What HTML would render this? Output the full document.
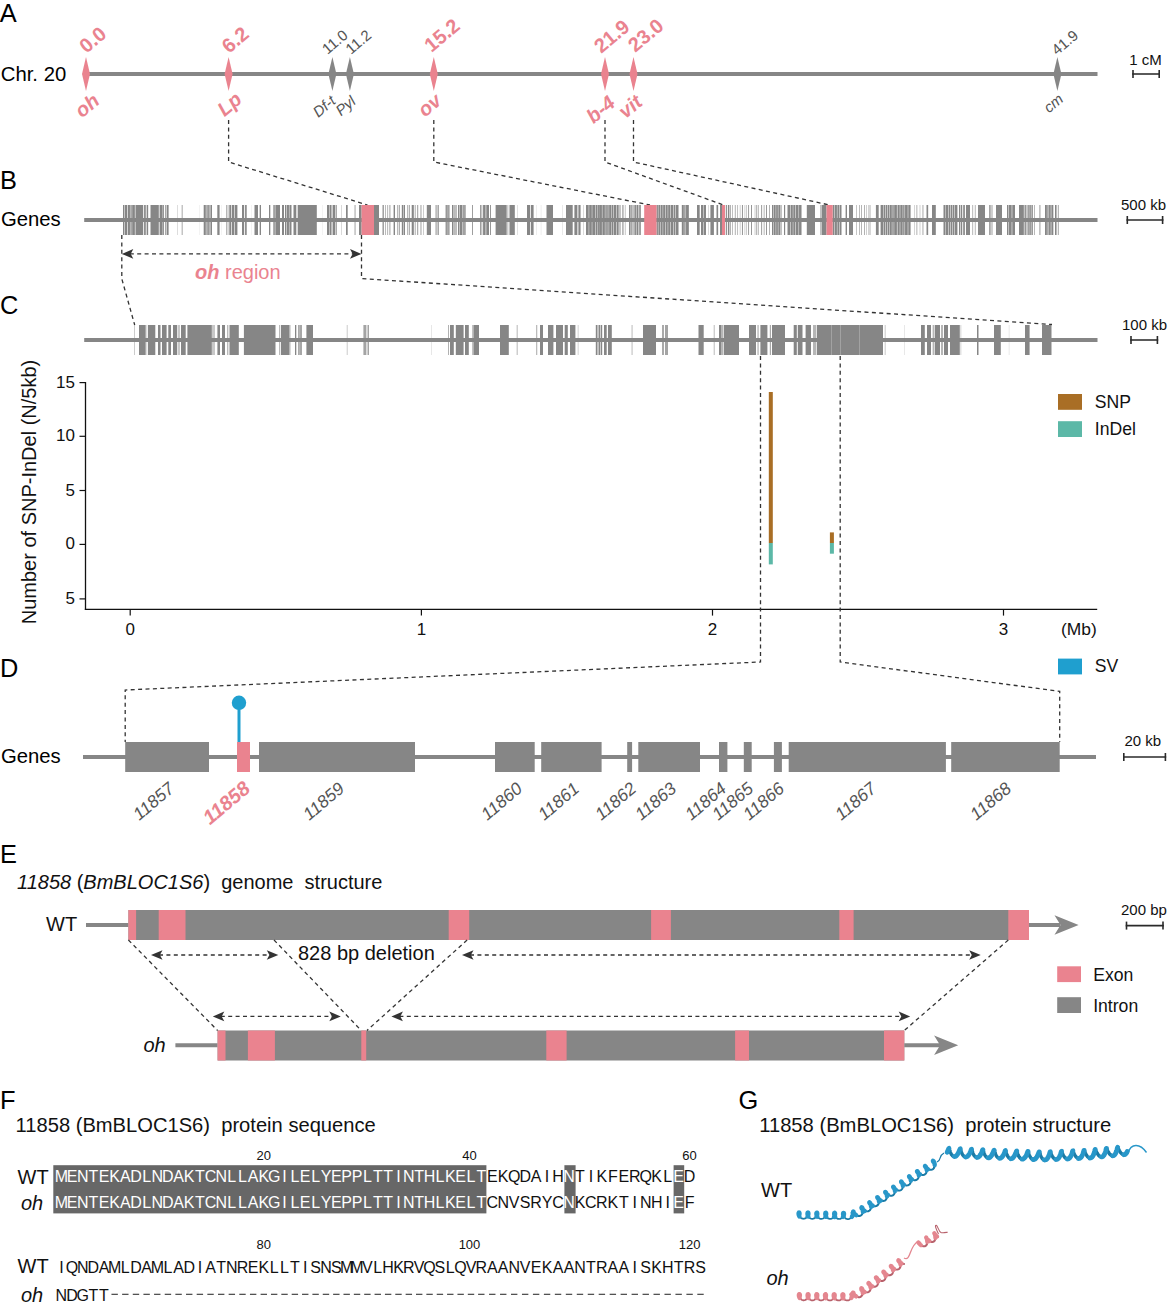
<!DOCTYPE html>
<html><head><meta charset="utf-8"><title>Figure</title>
<style>
html,body{margin:0;padding:0;background:#fff;}
svg{display:block;font-family:"Liberation Sans",sans-serif;}
text{white-space:pre;}
</style></head><body>
<svg width="1168" height="1310" viewBox="0 0 1168 1310">
<rect x="0" y="0" width="1168" height="1310" fill="#ffffff"/>
<text x="-0.20" y="21.70" font-size="25.4" fill="#000000">A</text>
<text x="0.00" y="188.80" font-size="25.4" fill="#000000">B</text>
<text x="0.00" y="314.30" font-size="25.4" fill="#000000">C</text>
<text x="0.00" y="676.80" font-size="25.4" fill="#000000">D</text>
<text x="0.00" y="862.60" font-size="25.4" fill="#000000">E</text>
<text x="0.00" y="1108.80" font-size="25.4" fill="#000000">F</text>
<text x="738.50" y="1108.60" font-size="25.4" fill="#000000">G</text>
<line x1="86.00" y1="74.00" x2="1097.50" y2="74.00" stroke="#868686" stroke-width="4"/>
<text x="0.80" y="80.50" font-size="20.3" fill="#000000">Chr. 20</text>
<polygon points="86.00,57.10 90.00,74.00 86.00,90.90 82.00,74.00" fill="#EA838F"/>
<text x="86.50" y="54.00" font-size="20" fill="#EA838F" font-weight="bold" transform="rotate(-40 86.50 54.00)">0.0</text>
<text x="100.80" y="102.80" font-size="20" fill="#EA838F" text-anchor="end" font-weight="bold" font-style="italic" transform="rotate(-40 100.80 102.80)">oh</text>
<polygon points="228.60,57.10 232.60,74.00 228.60,90.90 224.60,74.00" fill="#EA838F"/>
<text x="229.10" y="54.00" font-size="20" fill="#EA838F" font-weight="bold" transform="rotate(-40 229.10 54.00)">6.2</text>
<text x="243.10" y="101.50" font-size="20" fill="#EA838F" text-anchor="end" font-weight="bold" font-style="italic" transform="rotate(-40 243.10 101.50)">Lp</text>
<polygon points="332.40,57.10 336.40,74.00 332.40,90.90 328.40,74.00" fill="#868686"/>
<text x="327.40" y="55.00" font-size="15" fill="#555555" transform="rotate(-40 327.40 55.00)">11.0</text>
<text x="336.70" y="102.50" font-size="15" fill="#555555" text-anchor="end" font-style="italic" transform="rotate(-40 336.70 102.50)">Df-t</text>
<polygon points="349.90,57.10 353.90,74.00 349.90,90.90 345.90,74.00" fill="#868686"/>
<text x="350.90" y="55.00" font-size="15" fill="#555555" transform="rotate(-40 350.90 55.00)">11.2</text>
<text x="356.90" y="103.00" font-size="15" fill="#555555" text-anchor="end" font-style="italic" transform="rotate(-40 356.90 103.00)">Pyl</text>
<polygon points="433.80,57.10 437.80,74.00 433.80,90.90 429.80,74.00" fill="#EA838F"/>
<text x="431.50" y="53.00" font-size="20" fill="#EA838F" font-weight="bold" transform="rotate(-40 431.50 53.00)">15.2</text>
<text x="442.80" y="102.80" font-size="20" fill="#EA838F" text-anchor="end" font-weight="bold" font-style="italic" transform="rotate(-40 442.80 102.80)">ov</text>
<polygon points="605.00,57.10 609.00,74.00 605.00,90.90 601.00,74.00" fill="#EA838F"/>
<text x="601.20" y="54.00" font-size="20" fill="#EA838F" font-weight="bold" transform="rotate(-40 601.20 54.00)">21.9</text>
<text x="616.50" y="105.00" font-size="20" fill="#EA838F" text-anchor="end" font-weight="bold" font-style="italic" transform="rotate(-40 616.50 105.00)">b-4</text>
<polygon points="633.50,57.10 637.50,74.00 633.50,90.90 629.50,74.00" fill="#EA838F"/>
<text x="635.30" y="53.00" font-size="20" fill="#EA838F" font-weight="bold" transform="rotate(-40 635.30 53.00)">23.0</text>
<text x="643.50" y="104.30" font-size="20" fill="#EA838F" text-anchor="end" font-weight="bold" font-style="italic" transform="rotate(-40 643.50 104.30)">vit</text>
<polygon points="1057.40,57.10 1061.40,74.00 1057.40,90.90 1053.40,74.00" fill="#868686"/>
<text x="1057.10" y="55.80" font-size="15" fill="#555555" transform="rotate(-40 1057.10 55.80)">41.9</text>
<text x="1064.40" y="100.60" font-size="15" fill="#555555" text-anchor="end" font-style="italic" transform="rotate(-40 1064.40 100.60)">cm</text>
<line x1="1132.20" y1="74.00" x2="1160.00" y2="74.00" stroke="#2a2a2a" stroke-width="1.55"/>
<line x1="1133.00" y1="70.00" x2="1133.00" y2="78.00" stroke="#2a2a2a" stroke-width="1.6"/>
<line x1="1159.20" y1="70.00" x2="1159.20" y2="78.00" stroke="#2a2a2a" stroke-width="1.6"/>
<text x="1129.20" y="65.00" font-size="15" fill="#111">1 cM</text>
<polyline points="228.60,120.00 228.60,162.00 367.50,205.00" fill="none" stroke="#333333" stroke-width="1.3" stroke-dasharray="4 3.4"/>
<polyline points="433.80,120.00 433.80,162.00 650.00,205.00" fill="none" stroke="#333333" stroke-width="1.3" stroke-dasharray="4 3.4"/>
<polyline points="605.00,120.00 605.00,162.00 723.50,205.00" fill="none" stroke="#333333" stroke-width="1.3" stroke-dasharray="4 3.4"/>
<polyline points="633.50,120.00 633.50,162.00 829.50,205.00" fill="none" stroke="#333333" stroke-width="1.3" stroke-dasharray="4 3.4"/>
<text x="0.90" y="225.80" font-size="20.3" fill="#000000">Genes</text>
<line x1="84.20" y1="220.00" x2="1097.50" y2="220.00" stroke="#868686" stroke-width="4"/>
<rect x="123.00" y="205.00" width="1.47" height="30.00" fill="#868686"/>
<rect x="125.02" y="205.00" width="2.16" height="30.00" fill="#868686"/>
<rect x="127.83" y="205.00" width="2.11" height="30.00" fill="#868686"/>
<rect x="130.39" y="205.00" width="1.33" height="30.00" fill="#868686"/>
<rect x="132.17" y="205.00" width="2.69" height="30.00" fill="#868686"/>
<rect x="135.48" y="205.00" width="0.52" height="30.00" fill="#868686"/>
<rect x="136.00" y="205.00" width="6.00" height="30.00" fill="#868686"/>
<rect x="142.00" y="205.00" width="1.19" height="30.00" fill="#868686"/>
<rect x="144.09" y="205.00" width="1.67" height="30.00" fill="#868686"/>
<rect x="146.63" y="205.00" width="1.53" height="30.00" fill="#868686"/>
<rect x="150.50" y="205.00" width="8.30" height="30.00" fill="#868686"/>
<rect x="159.00" y="205.00" width="1.00" height="30.00" fill="#868686" fill-opacity="0.4"/>
<rect x="160.00" y="205.00" width="2.00" height="30.00" fill="#868686"/>
<rect x="162.00" y="205.00" width="0.67" height="30.00" fill="#868686"/>
<rect x="163.14" y="205.00" width="0.87" height="30.00" fill="#868686"/>
<rect x="165.10" y="205.00" width="0.72" height="30.00" fill="#868686"/>
<rect x="166.58" y="205.00" width="0.42" height="30.00" fill="#868686"/>
<rect x="167.00" y="205.00" width="1.60" height="30.00" fill="#868686"/>
<rect x="177.30" y="205.00" width="0.70" height="30.00" fill="#868686" fill-opacity="0.4"/>
<rect x="181.60" y="205.00" width="1.20" height="30.00" fill="#868686" fill-opacity="0.6"/>
<rect x="199.00" y="205.00" width="0.50" height="30.00" fill="#868686" fill-opacity="0.2"/>
<rect x="203.70" y="205.00" width="2.10" height="30.00" fill="#868686"/>
<rect x="206.40" y="205.00" width="1.31" height="30.00" fill="#868686"/>
<rect x="208.16" y="205.00" width="1.44" height="30.00" fill="#868686"/>
<rect x="210.40" y="205.00" width="1.60" height="30.00" fill="#868686"/>
<rect x="217.30" y="205.00" width="2.30" height="30.00" fill="#868686"/>
<rect x="221.50" y="205.00" width="0.50" height="30.00" fill="#868686" fill-opacity="0.2"/>
<rect x="226.40" y="205.00" width="0.88" height="30.00" fill="#868686"/>
<rect x="228.68" y="205.00" width="1.04" height="30.00" fill="#868686"/>
<rect x="230.00" y="205.00" width="1.30" height="30.00" fill="#868686"/>
<rect x="232.00" y="205.00" width="2.00" height="30.00" fill="#868686"/>
<rect x="234.60" y="205.00" width="2.80" height="30.00" fill="#868686"/>
<rect x="242.00" y="205.00" width="2.15" height="30.00" fill="#868686"/>
<rect x="245.08" y="205.00" width="1.62" height="30.00" fill="#868686"/>
<rect x="251.00" y="205.00" width="0.50" height="30.00" fill="#868686" fill-opacity="0.2"/>
<rect x="254.50" y="205.00" width="3.50" height="30.00" fill="#868686"/>
<rect x="259.50" y="205.00" width="1.20" height="30.00" fill="#868686" fill-opacity="0.7"/>
<rect x="260.00" y="205.00" width="1.00" height="30.00" fill="#868686"/>
<rect x="269.00" y="205.00" width="1.30" height="30.00" fill="#868686"/>
<rect x="273.00" y="205.00" width="0.64" height="30.00" fill="#868686"/>
<rect x="274.24" y="205.00" width="1.41" height="30.00" fill="#868686"/>
<rect x="276.00" y="205.00" width="4.00" height="30.00" fill="#868686"/>
<rect x="282.00" y="205.00" width="2.00" height="30.00" fill="#868686"/>
<rect x="285.00" y="205.00" width="1.27" height="30.00" fill="#868686"/>
<rect x="286.72" y="205.00" width="2.23" height="30.00" fill="#868686"/>
<rect x="289.40" y="205.00" width="2.10" height="30.00" fill="#868686"/>
<rect x="293.50" y="205.00" width="2.80" height="30.00" fill="#868686"/>
<rect x="297.70" y="205.00" width="19.10" height="30.00" fill="#868686"/>
<rect x="322.00" y="205.00" width="0.50" height="30.00" fill="#868686" fill-opacity="0.2"/>
<rect x="327.00" y="205.00" width="2.02" height="30.00" fill="#868686"/>
<rect x="329.47" y="205.00" width="2.05" height="30.00" fill="#868686"/>
<rect x="331.97" y="205.00" width="0.03" height="30.00" fill="#868686"/>
<rect x="332.60" y="205.00" width="2.68" height="30.00" fill="#868686"/>
<rect x="335.83" y="205.00" width="0.87" height="30.00" fill="#868686"/>
<rect x="341.20" y="205.00" width="0.80" height="30.00" fill="#868686" fill-opacity="0.4"/>
<rect x="346.00" y="205.00" width="1.70" height="30.00" fill="#868686"/>
<rect x="354.50" y="205.00" width="1.10" height="30.00" fill="#868686" fill-opacity="0.7"/>
<rect x="359.00" y="205.00" width="2.60" height="30.00" fill="#868686"/>
<rect x="374.00" y="205.00" width="5.00" height="30.00" fill="#868686"/>
<rect x="382.00" y="205.00" width="0.44" height="30.00" fill="#868686"/>
<rect x="383.16" y="205.00" width="0.77" height="30.00" fill="#868686"/>
<rect x="385.20" y="205.00" width="0.57" height="30.00" fill="#868686"/>
<rect x="387.47" y="205.00" width="0.60" height="30.00" fill="#868686"/>
<rect x="389.52" y="205.00" width="0.80" height="30.00" fill="#868686"/>
<rect x="393.60" y="205.00" width="1.40" height="30.00" fill="#868686"/>
<rect x="397.00" y="205.00" width="0.58" height="30.00" fill="#868686"/>
<rect x="398.78" y="205.00" width="0.88" height="30.00" fill="#868686"/>
<rect x="401.80" y="205.00" width="1.62" height="30.00" fill="#868686"/>
<rect x="403.87" y="205.00" width="1.13" height="30.00" fill="#868686"/>
<rect x="407.00" y="205.00" width="0.58" height="30.00" fill="#868686"/>
<rect x="408.79" y="205.00" width="0.87" height="30.00" fill="#868686"/>
<rect x="412.00" y="205.00" width="1.70" height="30.00" fill="#868686"/>
<rect x="414.80" y="205.00" width="0.69" height="30.00" fill="#868686"/>
<rect x="417.33" y="205.00" width="0.84" height="30.00" fill="#868686"/>
<rect x="420.58" y="205.00" width="0.79" height="30.00" fill="#868686"/>
<rect x="423.05" y="205.00" width="0.41" height="30.00" fill="#868686"/>
<rect x="411.70" y="205.00" width="1.70" height="30.00" fill="#868686"/>
<rect x="426.80" y="205.00" width="4.20" height="30.00" fill="#868686"/>
<rect x="435.00" y="205.00" width="0.39" height="30.00" fill="#868686"/>
<rect x="436.08" y="205.00" width="0.54" height="30.00" fill="#868686"/>
<rect x="437.42" y="205.00" width="0.43" height="30.00" fill="#868686"/>
<rect x="438.20" y="205.00" width="0.80" height="30.00" fill="#868686" fill-opacity="0.9"/>
<rect x="445.60" y="205.00" width="1.25" height="30.00" fill="#868686"/>
<rect x="447.30" y="205.00" width="1.47" height="30.00" fill="#868686"/>
<rect x="449.21" y="205.00" width="0.49" height="30.00" fill="#868686"/>
<rect x="452.00" y="205.00" width="1.52" height="30.00" fill="#868686"/>
<rect x="454.43" y="205.00" width="1.06" height="30.00" fill="#868686"/>
<rect x="455.94" y="205.00" width="0.60" height="30.00" fill="#868686"/>
<rect x="456.99" y="205.00" width="0.01" height="30.00" fill="#868686"/>
<rect x="458.00" y="205.00" width="1.49" height="30.00" fill="#868686"/>
<rect x="459.94" y="205.00" width="2.15" height="30.00" fill="#868686"/>
<rect x="462.54" y="205.00" width="1.25" height="30.00" fill="#868686"/>
<rect x="464.24" y="205.00" width="1.36" height="30.00" fill="#868686"/>
<rect x="472.00" y="205.00" width="0.80" height="30.00" fill="#868686"/>
<rect x="480.00" y="205.00" width="0.81" height="30.00" fill="#868686"/>
<rect x="481.54" y="205.00" width="0.70" height="30.00" fill="#868686"/>
<rect x="483.09" y="205.00" width="0.91" height="30.00" fill="#868686"/>
<rect x="484.00" y="205.00" width="1.60" height="30.00" fill="#868686"/>
<rect x="486.27" y="205.00" width="2.73" height="30.00" fill="#868686"/>
<rect x="490.14" y="205.00" width="0.86" height="30.00" fill="#868686"/>
<rect x="495.60" y="205.00" width="11.10" height="30.00" fill="#868686"/>
<rect x="507.60" y="205.00" width="0.55" height="30.00" fill="#868686"/>
<rect x="508.94" y="205.00" width="0.36" height="30.00" fill="#868686"/>
<rect x="509.70" y="205.00" width="5.10" height="30.00" fill="#868686"/>
<rect x="517.20" y="205.00" width="0.60" height="30.00" fill="#868686" fill-opacity="0.4"/>
<rect x="527.00" y="205.00" width="3.00" height="30.00" fill="#868686"/>
<rect x="530.80" y="205.00" width="2.80" height="30.00" fill="#868686"/>
<rect x="536.50" y="205.00" width="0.50" height="30.00" fill="#868686" fill-opacity="0.3"/>
<rect x="540.80" y="205.00" width="0.50" height="30.00" fill="#868686" fill-opacity="0.3"/>
<rect x="546.50" y="205.00" width="2.50" height="30.00" fill="#868686"/>
<rect x="549.00" y="205.00" width="4.00" height="30.00" fill="#868686"/>
<rect x="562.00" y="205.00" width="0.60" height="30.00" fill="#868686" fill-opacity="0.3"/>
<rect x="566.00" y="205.00" width="6.70" height="30.00" fill="#868686"/>
<rect x="574.40" y="205.00" width="2.98" height="30.00" fill="#868686"/>
<rect x="578.39" y="205.00" width="1.60" height="30.00" fill="#868686"/>
<rect x="580.44" y="205.00" width="0.56" height="30.00" fill="#868686"/>
<rect x="583.00" y="205.00" width="1.00" height="30.00" fill="#868686" fill-opacity="0.3"/>
<rect x="586.00" y="205.00" width="2.71" height="30.00" fill="#868686"/>
<rect x="589.16" y="205.00" width="2.64" height="30.00" fill="#868686"/>
<rect x="592.25" y="205.00" width="2.84" height="30.00" fill="#868686"/>
<rect x="595.54" y="205.00" width="2.06" height="30.00" fill="#868686"/>
<rect x="598.05" y="205.00" width="1.80" height="30.00" fill="#868686"/>
<rect x="600.00" y="205.00" width="1.91" height="30.00" fill="#868686"/>
<rect x="602.36" y="205.00" width="2.50" height="30.00" fill="#868686"/>
<rect x="605.32" y="205.00" width="1.47" height="30.00" fill="#868686"/>
<rect x="607.24" y="205.00" width="1.46" height="30.00" fill="#868686"/>
<rect x="609.15" y="205.00" width="2.38" height="30.00" fill="#868686"/>
<rect x="611.99" y="205.00" width="1.44" height="30.00" fill="#868686"/>
<rect x="613.87" y="205.00" width="2.37" height="30.00" fill="#868686"/>
<rect x="616.69" y="205.00" width="1.98" height="30.00" fill="#868686"/>
<rect x="619.00" y="205.00" width="0.47" height="30.00" fill="#868686"/>
<rect x="620.34" y="205.00" width="0.48" height="30.00" fill="#868686"/>
<rect x="622.02" y="205.00" width="0.58" height="30.00" fill="#868686"/>
<rect x="623.56" y="205.00" width="0.54" height="30.00" fill="#868686"/>
<rect x="625.33" y="205.00" width="0.37" height="30.00" fill="#868686"/>
<rect x="629.00" y="205.00" width="1.60" height="30.00" fill="#868686"/>
<rect x="631.29" y="205.00" width="1.14" height="30.00" fill="#868686"/>
<rect x="632.92" y="205.00" width="0.52" height="30.00" fill="#868686"/>
<rect x="633.90" y="205.00" width="0.72" height="30.00" fill="#868686"/>
<rect x="635.07" y="205.00" width="1.46" height="30.00" fill="#868686"/>
<rect x="636.99" y="205.00" width="1.07" height="30.00" fill="#868686"/>
<rect x="638.59" y="205.00" width="1.17" height="30.00" fill="#868686"/>
<rect x="640.21" y="205.00" width="0.79" height="30.00" fill="#868686"/>
<rect x="656.50" y="205.00" width="1.39" height="30.00" fill="#868686"/>
<rect x="658.34" y="205.00" width="1.70" height="30.00" fill="#868686"/>
<rect x="660.49" y="205.00" width="2.21" height="30.00" fill="#868686"/>
<rect x="663.15" y="205.00" width="2.00" height="30.00" fill="#868686"/>
<rect x="665.60" y="205.00" width="2.12" height="30.00" fill="#868686"/>
<rect x="668.17" y="205.00" width="2.16" height="30.00" fill="#868686"/>
<rect x="670.78" y="205.00" width="2.46" height="30.00" fill="#868686"/>
<rect x="673.69" y="205.00" width="1.67" height="30.00" fill="#868686"/>
<rect x="675.81" y="205.00" width="2.71" height="30.00" fill="#868686"/>
<rect x="681.80" y="205.00" width="2.00" height="30.00" fill="#868686"/>
<rect x="684.25" y="205.00" width="1.33" height="30.00" fill="#868686"/>
<rect x="686.03" y="205.00" width="2.81" height="30.00" fill="#868686"/>
<rect x="697.00" y="205.00" width="2.70" height="30.00" fill="#868686"/>
<rect x="701.00" y="205.00" width="2.39" height="30.00" fill="#868686"/>
<rect x="703.84" y="205.00" width="2.16" height="30.00" fill="#868686"/>
<rect x="708.00" y="205.00" width="1.00" height="30.00" fill="#868686" fill-opacity="0.3"/>
<rect x="710.40" y="205.00" width="3.50" height="30.00" fill="#868686"/>
<rect x="716.50" y="205.00" width="1.64" height="30.00" fill="#868686"/>
<rect x="720.00" y="205.00" width="2.00" height="30.00" fill="#868686"/>
<rect x="725.80" y="205.00" width="1.08" height="30.00" fill="#868686"/>
<rect x="727.89" y="205.00" width="1.50" height="30.00" fill="#868686"/>
<rect x="730.00" y="205.00" width="0.63" height="30.00" fill="#868686"/>
<rect x="732.38" y="205.00" width="0.53" height="30.00" fill="#868686"/>
<rect x="734.87" y="205.00" width="0.65" height="30.00" fill="#868686"/>
<rect x="737.49" y="205.00" width="0.53" height="30.00" fill="#868686"/>
<rect x="739.88" y="205.00" width="0.39" height="30.00" fill="#868686"/>
<rect x="741.96" y="205.00" width="0.88" height="30.00" fill="#868686"/>
<rect x="744.76" y="205.00" width="0.37" height="30.00" fill="#868686"/>
<rect x="746.57" y="205.00" width="0.42" height="30.00" fill="#868686"/>
<rect x="748.24" y="205.00" width="0.80" height="30.00" fill="#868686"/>
<rect x="751.09" y="205.00" width="0.86" height="30.00" fill="#868686"/>
<rect x="754.81" y="205.00" width="0.40" height="30.00" fill="#868686"/>
<rect x="756.02" y="205.00" width="0.58" height="30.00" fill="#868686"/>
<rect x="757.82" y="205.00" width="0.70" height="30.00" fill="#868686"/>
<rect x="761.27" y="205.00" width="0.82" height="30.00" fill="#868686"/>
<rect x="763.79" y="205.00" width="0.60" height="30.00" fill="#868686"/>
<rect x="766.04" y="205.00" width="0.86" height="30.00" fill="#868686"/>
<rect x="769.12" y="205.00" width="0.64" height="30.00" fill="#868686"/>
<rect x="772.00" y="205.00" width="1.49" height="30.00" fill="#868686"/>
<rect x="773.94" y="205.00" width="1.76" height="30.00" fill="#868686"/>
<rect x="776.15" y="205.00" width="1.72" height="30.00" fill="#868686"/>
<rect x="778.32" y="205.00" width="1.82" height="30.00" fill="#868686"/>
<rect x="780.60" y="205.00" width="0.90" height="30.00" fill="#868686"/>
<rect x="784.00" y="205.00" width="1.16" height="30.00" fill="#868686"/>
<rect x="787.50" y="205.00" width="2.88" height="30.00" fill="#868686"/>
<rect x="790.83" y="205.00" width="1.98" height="30.00" fill="#868686"/>
<rect x="793.26" y="205.00" width="1.91" height="30.00" fill="#868686"/>
<rect x="795.62" y="205.00" width="2.97" height="30.00" fill="#868686"/>
<rect x="799.04" y="205.00" width="2.47" height="30.00" fill="#868686"/>
<rect x="801.96" y="205.00" width="0.04" height="30.00" fill="#868686"/>
<rect x="806.80" y="205.00" width="8.20" height="30.00" fill="#868686"/>
<rect x="820.50" y="205.00" width="0.66" height="30.00" fill="#868686"/>
<rect x="821.61" y="205.00" width="1.39" height="30.00" fill="#868686"/>
<rect x="823.00" y="205.00" width="3.50" height="30.00" fill="#868686"/>
<rect x="832.70" y="205.00" width="1.35" height="30.00" fill="#868686"/>
<rect x="834.50" y="205.00" width="2.41" height="30.00" fill="#868686"/>
<rect x="837.36" y="205.00" width="1.73" height="30.00" fill="#868686"/>
<rect x="839.54" y="205.00" width="1.96" height="30.00" fill="#868686"/>
<rect x="845.60" y="205.00" width="1.40" height="30.00" fill="#868686"/>
<rect x="849.00" y="205.00" width="4.00" height="30.00" fill="#868686"/>
<rect x="856.00" y="205.00" width="0.48" height="30.00" fill="#868686"/>
<rect x="859.14" y="205.00" width="0.55" height="30.00" fill="#868686"/>
<rect x="861.00" y="205.00" width="0.61" height="30.00" fill="#868686"/>
<rect x="864.06" y="205.00" width="0.63" height="30.00" fill="#868686"/>
<rect x="866.21" y="205.00" width="0.40" height="30.00" fill="#868686"/>
<rect x="868.08" y="205.00" width="0.36" height="30.00" fill="#868686"/>
<rect x="869.66" y="205.00" width="0.67" height="30.00" fill="#868686"/>
<rect x="875.90" y="205.00" width="2.80" height="30.00" fill="#868686"/>
<rect x="880.60" y="205.00" width="2.38" height="30.00" fill="#868686"/>
<rect x="883.48" y="205.00" width="1.90" height="30.00" fill="#868686"/>
<rect x="885.83" y="205.00" width="1.47" height="30.00" fill="#868686"/>
<rect x="887.75" y="205.00" width="1.28" height="30.00" fill="#868686"/>
<rect x="889.48" y="205.00" width="2.33" height="30.00" fill="#868686"/>
<rect x="892.29" y="205.00" width="1.45" height="30.00" fill="#868686"/>
<rect x="894.19" y="205.00" width="2.70" height="30.00" fill="#868686"/>
<rect x="897.49" y="205.00" width="2.25" height="30.00" fill="#868686"/>
<rect x="900.26" y="205.00" width="2.45" height="30.00" fill="#868686"/>
<rect x="903.16" y="205.00" width="1.44" height="30.00" fill="#868686"/>
<rect x="905.05" y="205.00" width="2.70" height="30.00" fill="#868686"/>
<rect x="908.25" y="205.00" width="2.33" height="30.00" fill="#868686"/>
<rect x="914.50" y="205.00" width="0.35" height="30.00" fill="#868686"/>
<rect x="916.59" y="205.00" width="0.63" height="30.00" fill="#868686"/>
<rect x="919.80" y="205.00" width="0.39" height="30.00" fill="#868686"/>
<rect x="922.02" y="205.00" width="0.39" height="30.00" fill="#868686"/>
<rect x="923.68" y="205.00" width="0.32" height="30.00" fill="#868686"/>
<rect x="926.50" y="205.00" width="1.67" height="30.00" fill="#868686"/>
<rect x="932.00" y="205.00" width="3.80" height="30.00" fill="#868686"/>
<rect x="943.50" y="205.00" width="2.06" height="30.00" fill="#868686"/>
<rect x="946.01" y="205.00" width="2.31" height="30.00" fill="#868686"/>
<rect x="948.77" y="205.00" width="1.47" height="30.00" fill="#868686"/>
<rect x="950.69" y="205.00" width="1.75" height="30.00" fill="#868686"/>
<rect x="952.89" y="205.00" width="1.31" height="30.00" fill="#868686"/>
<rect x="954.65" y="205.00" width="2.45" height="30.00" fill="#868686"/>
<rect x="957.54" y="205.00" width="0.36" height="30.00" fill="#868686"/>
<rect x="959.00" y="205.00" width="1.06" height="30.00" fill="#868686"/>
<rect x="960.66" y="205.00" width="1.57" height="30.00" fill="#868686"/>
<rect x="963.21" y="205.00" width="1.67" height="30.00" fill="#868686"/>
<rect x="966.00" y="205.00" width="4.00" height="30.00" fill="#868686"/>
<rect x="972.50" y="205.00" width="0.60" height="30.00" fill="#868686"/>
<rect x="974.87" y="205.00" width="0.60" height="30.00" fill="#868686"/>
<rect x="978.00" y="205.00" width="7.00" height="30.00" fill="#868686"/>
<rect x="989.00" y="205.00" width="0.75" height="30.00" fill="#868686"/>
<rect x="990.43" y="205.00" width="0.75" height="30.00" fill="#868686"/>
<rect x="991.72" y="205.00" width="0.67" height="30.00" fill="#868686"/>
<rect x="996.00" y="205.00" width="6.00" height="30.00" fill="#868686"/>
<rect x="1007.00" y="205.00" width="1.44" height="30.00" fill="#868686"/>
<rect x="1008.89" y="205.00" width="2.80" height="30.00" fill="#868686"/>
<rect x="1012.26" y="205.00" width="2.74" height="30.00" fill="#868686"/>
<rect x="1019.00" y="205.00" width="4.80" height="30.00" fill="#868686"/>
<rect x="1023.80" y="205.00" width="0.53" height="30.00" fill="#868686"/>
<rect x="1024.78" y="205.00" width="1.09" height="30.00" fill="#868686"/>
<rect x="1026.57" y="205.00" width="0.86" height="30.00" fill="#868686"/>
<rect x="1027.88" y="205.00" width="0.91" height="30.00" fill="#868686"/>
<rect x="1029.31" y="205.00" width="1.51" height="30.00" fill="#868686"/>
<rect x="1031.42" y="205.00" width="1.40" height="30.00" fill="#868686"/>
<rect x="1034.01" y="205.00" width="0.59" height="30.00" fill="#868686"/>
<rect x="1039.50" y="205.00" width="0.85" height="30.00" fill="#868686"/>
<rect x="1041.99" y="205.00" width="0.01" height="30.00" fill="#868686"/>
<rect x="1045.00" y="205.00" width="1.85" height="30.00" fill="#868686"/>
<rect x="1047.30" y="205.00" width="1.29" height="30.00" fill="#868686"/>
<rect x="1049.04" y="205.00" width="1.71" height="30.00" fill="#868686"/>
<rect x="1051.33" y="205.00" width="1.68" height="30.00" fill="#868686"/>
<rect x="1053.46" y="205.00" width="0.34" height="30.00" fill="#868686"/>
<rect x="1055.00" y="205.00" width="1.56" height="30.00" fill="#868686"/>
<rect x="1057.86" y="205.00" width="0.74" height="30.00" fill="#868686"/>
<rect x="361.60" y="205.00" width="12.40" height="30.00" fill="#EA838F"/>
<rect x="644.20" y="205.00" width="12.30" height="30.00" fill="#EA838F"/>
<rect x="722.00" y="205.00" width="3.00" height="30.00" fill="#EA838F"/>
<rect x="826.50" y="205.00" width="6.20" height="30.00" fill="#EA838F"/>
<line x1="83.00" y1="220.00" x2="1097.50" y2="220.00" stroke="#868686" stroke-width="4" stroke-opacity="0.0"/>
<line x1="1126.50" y1="220.00" x2="1163.40" y2="220.00" stroke="#2a2a2a" stroke-width="1.55"/>
<line x1="1127.30" y1="216.00" x2="1127.30" y2="224.00" stroke="#2a2a2a" stroke-width="1.6"/>
<line x1="1162.60" y1="216.00" x2="1162.60" y2="224.00" stroke="#2a2a2a" stroke-width="1.6"/>
<text x="1121.00" y="210.30" font-size="15" fill="#111">500 kb</text>
<line x1="129.80" y1="253.90" x2="353.50" y2="253.90" stroke="#333333" stroke-width="1.3" stroke-dasharray="4 3.4"/>
<polygon points="121.80,253.90 133.30,249.10 130.70,253.90 133.30,258.70" fill="#333333"/>
<polygon points="361.50,253.90 350.00,249.10 352.60,253.90 350.00,258.70" fill="#333333"/>
<text x="195" y="278.8" font-size="20" fill="#EA838F"><tspan font-weight="bold" font-style="italic">oh</tspan> region</text>
<polyline points="121.80,235.00 121.80,278.80 134.70,325.00" fill="none" stroke="#333333" stroke-width="1.3" stroke-dasharray="4 3.4"/>
<polyline points="361.50,235.00 361.50,278.50 1052.00,324.50" fill="none" stroke="#333333" stroke-width="1.3" stroke-dasharray="4 3.4"/>
<line x1="84.20" y1="340.00" x2="1097.50" y2="340.00" stroke="#868686" stroke-width="4"/>
<rect x="134.20" y="325.00" width="0.60" height="30.00" fill="#868686" fill-opacity="0.7"/>
<rect x="139.00" y="325.00" width="6.70" height="30.00" fill="#868686"/>
<rect x="146.30" y="325.00" width="1.00" height="30.00" fill="#868686" fill-opacity="0.4"/>
<rect x="148.00" y="325.00" width="7.30" height="30.00" fill="#868686"/>
<rect x="158.00" y="325.00" width="2.50" height="30.00" fill="#868686"/>
<rect x="162.00" y="325.00" width="4.60" height="30.00" fill="#868686"/>
<rect x="168.30" y="325.00" width="2.70" height="30.00" fill="#868686"/>
<rect x="173.00" y="325.00" width="4.00" height="30.00" fill="#868686"/>
<rect x="177.50" y="325.00" width="2.50" height="30.00" fill="#868686" fill-opacity="0.45"/>
<rect x="181.00" y="325.00" width="4.70" height="30.00" fill="#868686"/>
<rect x="187.40" y="325.00" width="24.40" height="30.00" fill="#868686"/>
<rect x="211.80" y="325.00" width="3.20" height="30.00" fill="#868686" fill-opacity="0.45"/>
<rect x="217.40" y="325.00" width="2.60" height="30.00" fill="#868686"/>
<rect x="222.00" y="325.00" width="3.00" height="30.00" fill="#868686"/>
<rect x="227.20" y="325.00" width="1.10" height="30.00" fill="#868686" fill-opacity="0.7"/>
<rect x="229.50" y="325.00" width="9.30" height="30.00" fill="#868686"/>
<rect x="243.90" y="325.00" width="31.60" height="30.00" fill="#868686"/>
<rect x="279.20" y="325.00" width="1.00" height="30.00" fill="#868686" fill-opacity="0.7"/>
<rect x="281.00" y="325.00" width="8.00" height="30.00" fill="#868686"/>
<rect x="289.00" y="325.00" width="1.50" height="30.00" fill="#868686" fill-opacity="0.6"/>
<rect x="295.00" y="325.00" width="1.30" height="30.00" fill="#868686"/>
<rect x="298.30" y="325.00" width="1.30" height="30.00" fill="#868686"/>
<rect x="300.20" y="325.00" width="1.60" height="30.00" fill="#868686" fill-opacity="0.9"/>
<rect x="306.40" y="325.00" width="6.60" height="30.00" fill="#868686"/>
<rect x="346.80" y="325.00" width="0.70" height="30.00" fill="#868686" fill-opacity="0.6"/>
<rect x="363.40" y="325.00" width="3.00" height="30.00" fill="#868686" fill-opacity="0.75"/>
<rect x="367.50" y="325.00" width="1.50" height="30.00" fill="#868686" fill-opacity="0.75"/>
<rect x="431.00" y="325.00" width="0.50" height="30.00" fill="#868686" fill-opacity="0.4"/>
<rect x="448.00" y="325.00" width="0.80" height="30.00" fill="#868686" fill-opacity="0.8"/>
<rect x="450.00" y="325.00" width="3.80" height="30.00" fill="#868686"/>
<rect x="455.80" y="325.00" width="7.80" height="30.00" fill="#868686"/>
<rect x="465.00" y="325.00" width="3.80" height="30.00" fill="#868686"/>
<rect x="472.00" y="325.00" width="1.50" height="30.00" fill="#868686" fill-opacity="0.5"/>
<rect x="473.50" y="325.00" width="5.50" height="30.00" fill="#868686"/>
<rect x="500.00" y="325.00" width="8.80" height="30.00" fill="#868686"/>
<rect x="516.80" y="325.00" width="0.60" height="30.00" fill="#868686"/>
<rect x="536.30" y="325.00" width="0.90" height="30.00" fill="#868686" fill-opacity="0.8"/>
<rect x="540.00" y="325.00" width="3.00" height="30.00" fill="#868686"/>
<rect x="548.00" y="325.00" width="5.40" height="30.00" fill="#868686"/>
<rect x="556.00" y="325.00" width="7.00" height="30.00" fill="#868686"/>
<rect x="564.70" y="325.00" width="3.10" height="30.00" fill="#868686"/>
<rect x="570.00" y="325.00" width="5.40" height="30.00" fill="#868686"/>
<rect x="577.80" y="325.00" width="0.60" height="30.00" fill="#868686" fill-opacity="0.6"/>
<rect x="595.80" y="325.00" width="1.70" height="30.00" fill="#868686"/>
<rect x="598.50" y="325.00" width="1.50" height="30.00" fill="#868686"/>
<rect x="600.60" y="325.00" width="1.60" height="30.00" fill="#868686"/>
<rect x="604.00" y="325.00" width="2.70" height="30.00" fill="#868686"/>
<rect x="608.00" y="325.00" width="3.80" height="30.00" fill="#868686"/>
<rect x="631.70" y="325.00" width="0.70" height="30.00" fill="#868686" fill-opacity="0.8"/>
<rect x="643.00" y="325.00" width="13.00" height="30.00" fill="#868686"/>
<rect x="662.00" y="325.00" width="2.00" height="30.00" fill="#868686" fill-opacity="0.7"/>
<rect x="665.00" y="325.00" width="3.00" height="30.00" fill="#868686" fill-opacity="0.75"/>
<rect x="698.50" y="325.00" width="5.20" height="30.00" fill="#868686"/>
<rect x="713.80" y="325.00" width="0.70" height="30.00" fill="#868686" fill-opacity="0.8"/>
<rect x="719.00" y="325.00" width="2.00" height="30.00" fill="#868686"/>
<rect x="721.00" y="325.00" width="2.20" height="30.00" fill="#868686" fill-opacity="0.6"/>
<rect x="723.80" y="325.00" width="15.20" height="30.00" fill="#868686"/>
<rect x="749.00" y="325.00" width="7.00" height="30.00" fill="#868686"/>
<rect x="757.50" y="325.00" width="1.10" height="30.00" fill="#868686" fill-opacity="0.7"/>
<rect x="760.40" y="325.00" width="7.00" height="30.00" fill="#868686"/>
<rect x="769.80" y="325.00" width="1.20" height="30.00" fill="#868686" fill-opacity="0.7"/>
<rect x="772.00" y="325.00" width="13.00" height="30.00" fill="#868686"/>
<rect x="793.70" y="325.00" width="3.10" height="30.00" fill="#868686"/>
<rect x="797.80" y="325.00" width="4.70" height="30.00" fill="#868686"/>
<rect x="805.60" y="325.00" width="5.40" height="30.00" fill="#868686"/>
<rect x="813.00" y="325.00" width="3.40" height="30.00" fill="#868686" fill-opacity="0.6"/>
<rect x="817.00" y="325.00" width="66.00" height="30.00" fill="#868686"/>
<rect x="884.50" y="325.00" width="1.50" height="30.00" fill="#868686" fill-opacity="0.3"/>
<rect x="904.30" y="325.00" width="0.60" height="30.00" fill="#868686" fill-opacity="0.3"/>
<rect x="921.00" y="325.00" width="3.80" height="30.00" fill="#868686"/>
<rect x="927.00" y="325.00" width="4.00" height="30.00" fill="#868686"/>
<rect x="932.60" y="325.00" width="1.90" height="30.00" fill="#868686" fill-opacity="0.6"/>
<rect x="935.00" y="325.00" width="5.00" height="30.00" fill="#868686"/>
<rect x="941.00" y="325.00" width="2.00" height="30.00" fill="#868686" fill-opacity="0.6"/>
<rect x="944.00" y="325.00" width="4.00" height="30.00" fill="#868686"/>
<rect x="950.00" y="325.00" width="9.80" height="30.00" fill="#868686"/>
<rect x="960.60" y="325.00" width="0.60" height="30.00" fill="#868686" fill-opacity="0.6"/>
<rect x="977.00" y="325.00" width="1.50" height="30.00" fill="#868686"/>
<rect x="994.00" y="325.00" width="6.80" height="30.00" fill="#868686"/>
<rect x="1008.80" y="325.00" width="0.60" height="30.00" fill="#868686" fill-opacity="0.3"/>
<rect x="1025.00" y="325.00" width="4.60" height="30.00" fill="#868686"/>
<rect x="1042.00" y="325.00" width="9.50" height="30.00" fill="#868686"/>
<rect x="831.30" y="325.00" width="0.60" height="30.00" fill="#b5b5b5"/>
<rect x="840.30" y="325.00" width="0.60" height="30.00" fill="#b5b5b5"/>
<rect x="859.30" y="325.00" width="0.60" height="30.00" fill="#b5b5b5"/>
<line x1="1130.20" y1="340.00" x2="1158.20" y2="340.00" stroke="#2a2a2a" stroke-width="1.55"/>
<line x1="1131.00" y1="336.00" x2="1131.00" y2="344.00" stroke="#2a2a2a" stroke-width="1.6"/>
<line x1="1157.40" y1="336.00" x2="1157.40" y2="344.00" stroke="#2a2a2a" stroke-width="1.6"/>
<text x="1122.00" y="330.00" font-size="15" fill="#111">100 kb</text>
<line x1="85.50" y1="382.00" x2="85.50" y2="610.00" stroke="#111" stroke-width="1.3"/>
<line x1="84.85" y1="609.40" x2="1097.20" y2="609.40" stroke="#111" stroke-width="1.3"/>
<line x1="79.50" y1="382.60" x2="85.50" y2="382.60" stroke="#111" stroke-width="1.2"/>
<text x="75.00" y="387.60" font-size="17" fill="#111" text-anchor="end">15</text>
<line x1="79.50" y1="436.30" x2="85.50" y2="436.30" stroke="#111" stroke-width="1.2"/>
<text x="75.00" y="441.30" font-size="17" fill="#111" text-anchor="end">10</text>
<line x1="79.50" y1="490.50" x2="85.50" y2="490.50" stroke="#111" stroke-width="1.2"/>
<text x="75.00" y="495.50" font-size="17" fill="#111" text-anchor="end">5</text>
<line x1="79.50" y1="544.40" x2="85.50" y2="544.40" stroke="#111" stroke-width="1.2"/>
<text x="75.00" y="549.40" font-size="17" fill="#111" text-anchor="end">0</text>
<line x1="79.50" y1="598.90" x2="85.50" y2="598.90" stroke="#111" stroke-width="1.2"/>
<text x="75.00" y="603.90" font-size="17" fill="#111" text-anchor="end">5</text>
<line x1="130.20" y1="609.40" x2="130.20" y2="615.60" stroke="#111" stroke-width="1.2"/>
<text x="130.20" y="635.00" font-size="17" fill="#111" text-anchor="middle">0</text>
<line x1="421.40" y1="609.40" x2="421.40" y2="615.60" stroke="#111" stroke-width="1.2"/>
<text x="421.40" y="635.00" font-size="17" fill="#111" text-anchor="middle">1</text>
<line x1="712.50" y1="609.40" x2="712.50" y2="615.60" stroke="#111" stroke-width="1.2"/>
<text x="712.50" y="635.00" font-size="17" fill="#111" text-anchor="middle">2</text>
<line x1="1003.50" y1="609.40" x2="1003.50" y2="615.60" stroke="#111" stroke-width="1.2"/>
<text x="1003.50" y="635.00" font-size="17" fill="#111" text-anchor="middle">3</text>
<text x="1061.00" y="635.00" font-size="17.4" fill="#111">(Mb)</text>
<text x="36.00" y="492.00" font-size="20" fill="#111" text-anchor="middle" transform="rotate(-90 36.00 492.00)">Number of SNP-InDel (N/5kb)</text>
<rect x="768.80" y="392.00" width="4.00" height="151.00" fill="#A96E25"/>
<rect x="768.80" y="543.00" width="4.00" height="21.40" fill="#5CB8A7"/>
<rect x="829.90" y="532.40" width="4.00" height="10.60" fill="#A96E25"/>
<rect x="829.90" y="543.00" width="4.00" height="10.70" fill="#5CB8A7"/>
<rect x="1058.00" y="394.00" width="24.00" height="15.80" fill="#A96E25"/>
<text x="1094.80" y="407.70" font-size="17.6" fill="#111">SNP</text>
<rect x="1058.00" y="421.20" width="24.00" height="15.80" fill="#5CB8A7"/>
<text x="1094.80" y="434.70" font-size="17.6" fill="#111">InDel</text>
<rect x="1058.00" y="658.60" width="24.00" height="15.80" fill="#1F9FCF"/>
<text x="1094.80" y="672.10" font-size="17.6" fill="#111">SV</text>
<polyline points="760.50,356.00 760.50,662.00 125.20,690.00 125.20,742.00" fill="none" stroke="#333333" stroke-width="1.3" stroke-dasharray="4 3.4"/>
<polyline points="840.20,356.00 840.20,662.00 1059.70,691.40 1059.70,742.00" fill="none" stroke="#333333" stroke-width="1.3" stroke-dasharray="4 3.4"/>
<text x="0.90" y="762.80" font-size="20.3" fill="#000000">Genes</text>
<line x1="83.00" y1="757.00" x2="1096.00" y2="757.00" stroke="#868686" stroke-width="4"/>
<rect x="125.20" y="742.00" width="83.80" height="30.00" fill="#868686"/>
<rect x="259.00" y="742.00" width="156.00" height="30.00" fill="#868686"/>
<rect x="495.00" y="742.00" width="39.70" height="30.00" fill="#868686"/>
<rect x="541.20" y="742.00" width="60.40" height="30.00" fill="#868686"/>
<rect x="627.20" y="742.00" width="4.90" height="30.00" fill="#868686"/>
<rect x="638.30" y="742.00" width="61.70" height="30.00" fill="#868686"/>
<rect x="719.00" y="742.00" width="8.40" height="30.00" fill="#868686"/>
<rect x="743.80" y="742.00" width="7.90" height="30.00" fill="#868686"/>
<rect x="773.90" y="742.00" width="8.00" height="30.00" fill="#868686"/>
<rect x="788.70" y="742.00" width="157.20" height="30.00" fill="#868686"/>
<rect x="951.20" y="742.00" width="108.50" height="30.00" fill="#868686"/>
<rect x="237.00" y="742.00" width="13.00" height="30.00" fill="#EA838F"/>
<line x1="239.00" y1="703.00" x2="239.00" y2="742.00" stroke="#1F9FCF" stroke-width="3"/>
<circle cx="239" cy="702.8" r="7.2" fill="#1F9FCF"/>
<text x="175.50" y="790.60" font-size="17.5" fill="#555555" text-anchor="end" font-style="italic" transform="rotate(-40 175.50 790.60)">11857</text>
<text x="345.50" y="790.60" font-size="17.5" fill="#555555" text-anchor="end" font-style="italic" transform="rotate(-40 345.50 790.60)">11859</text>
<text x="523.50" y="790.60" font-size="17.5" fill="#555555" text-anchor="end" font-style="italic" transform="rotate(-40 523.50 790.60)">11860</text>
<text x="580.50" y="790.60" font-size="17.5" fill="#555555" text-anchor="end" font-style="italic" transform="rotate(-40 580.50 790.60)">11861</text>
<text x="637.50" y="790.60" font-size="17.5" fill="#555555" text-anchor="end" font-style="italic" transform="rotate(-40 637.50 790.60)">11862</text>
<text x="677.50" y="790.60" font-size="17.5" fill="#555555" text-anchor="end" font-style="italic" transform="rotate(-40 677.50 790.60)">11863</text>
<text x="727.50" y="790.60" font-size="17.5" fill="#555555" text-anchor="end" font-style="italic" transform="rotate(-40 727.50 790.60)">11864</text>
<text x="754.50" y="790.60" font-size="17.5" fill="#555555" text-anchor="end" font-style="italic" transform="rotate(-40 754.50 790.60)">11865</text>
<text x="785.50" y="790.60" font-size="17.5" fill="#555555" text-anchor="end" font-style="italic" transform="rotate(-40 785.50 790.60)">11866</text>
<text x="877.50" y="790.60" font-size="17.5" fill="#555555" text-anchor="end" font-style="italic" transform="rotate(-40 877.50 790.60)">11867</text>
<text x="1012.50" y="790.60" font-size="17.5" fill="#555555" text-anchor="end" font-style="italic" transform="rotate(-40 1012.50 790.60)">11868</text>
<text x="251.50" y="790.60" font-size="20" fill="#EA838F" text-anchor="end" font-weight="bold" font-style="italic" transform="rotate(-40 251.50 790.60)">11858</text>
<line x1="1123.00" y1="757.00" x2="1166.20" y2="757.00" stroke="#2a2a2a" stroke-width="1.55"/>
<line x1="1123.80" y1="753.00" x2="1123.80" y2="761.00" stroke="#2a2a2a" stroke-width="1.6"/>
<line x1="1165.40" y1="753.00" x2="1165.40" y2="761.00" stroke="#2a2a2a" stroke-width="1.6"/>
<text x="1124.50" y="746.00" font-size="15" fill="#111">20 kb</text>
<text x="17" y="888.8" font-size="20" fill="#111"><tspan font-style="italic">11858</tspan> (<tspan font-style="italic">BmBLOC1S6</tspan>)  genome  structure</text>
<text x="46.00" y="931.40" font-size="20" fill="#111">WT</text>
<text x="143.50" y="1051.50" font-size="20" fill="#111" font-style="italic">oh</text>
<line x1="86.00" y1="925.00" x2="128.40" y2="925.00" stroke="#868686" stroke-width="4"/>
<rect x="128.40" y="910.00" width="900.60" height="30.00" fill="#868686"/>
<rect x="128.40" y="910.00" width="7.70" height="30.00" fill="#EA838F"/>
<rect x="158.70" y="910.00" width="26.80" height="30.00" fill="#EA838F"/>
<rect x="448.70" y="910.00" width="20.50" height="30.00" fill="#EA838F"/>
<rect x="651.10" y="910.00" width="19.80" height="30.00" fill="#EA838F"/>
<rect x="839.30" y="910.00" width="14.30" height="30.00" fill="#EA838F"/>
<rect x="1008.30" y="910.00" width="20.70" height="30.00" fill="#EA838F"/>
<line x1="1029.00" y1="925.00" x2="1060.00" y2="925.00" stroke="#868686" stroke-width="4"/>
<polygon points="1078.6,925 1054.5,915.3 1060.5,925 1054.5,934.7" fill="#868686"/>
<line x1="175.40" y1="1045.30" x2="217.60" y2="1045.30" stroke="#868686" stroke-width="4"/>
<rect x="217.60" y="1030.50" width="686.70" height="30.00" fill="#868686"/>
<rect x="217.60" y="1030.50" width="7.90" height="30.00" fill="#EA838F"/>
<rect x="247.90" y="1030.50" width="27.00" height="30.00" fill="#EA838F"/>
<rect x="361.30" y="1030.50" width="4.90" height="30.00" fill="#EA838F"/>
<rect x="546.30" y="1030.50" width="20.30" height="30.00" fill="#EA838F"/>
<rect x="735.10" y="1030.50" width="13.90" height="30.00" fill="#EA838F"/>
<rect x="884.00" y="1030.50" width="20.30" height="30.00" fill="#EA838F"/>
<line x1="904.30" y1="1045.30" x2="940.00" y2="1045.30" stroke="#868686" stroke-width="4"/>
<polygon points="958.2,1045.3 934.1,1035.6 940.1,1045.3 934.1,1055" fill="#868686"/>
<polyline points="128.40,940.00 217.60,1030.50" fill="none" stroke="#333333" stroke-width="1.3" stroke-dasharray="4 3.4"/>
<polyline points="274.00,940.00 361.30,1030.50" fill="none" stroke="#333333" stroke-width="1.3" stroke-dasharray="4 3.4"/>
<polyline points="467.10,940.00 367.00,1030.50" fill="none" stroke="#333333" stroke-width="1.3" stroke-dasharray="4 3.4"/>
<polyline points="1008.30,940.00 904.30,1030.50" fill="none" stroke="#333333" stroke-width="1.3" stroke-dasharray="4 3.4"/>
<line x1="159.00" y1="955.00" x2="270.30" y2="955.00" stroke="#333333" stroke-width="1.3" stroke-dasharray="4 3.4"/>
<polygon points="151.00,955.00 162.50,950.20 159.90,955.00 162.50,959.80" fill="#333333"/>
<polygon points="278.30,955.00 266.80,950.20 269.40,955.00 266.80,959.80" fill="#333333"/>
<line x1="470.00" y1="955.00" x2="972.70" y2="955.00" stroke="#333333" stroke-width="1.3" stroke-dasharray="4 3.4"/>
<polygon points="462.00,955.00 473.50,950.20 470.90,955.00 473.50,959.80" fill="#333333"/>
<polygon points="980.70,955.00 969.20,950.20 971.80,955.00 969.20,959.80" fill="#333333"/>
<line x1="220.80" y1="1016.40" x2="332.80" y2="1016.40" stroke="#333333" stroke-width="1.3" stroke-dasharray="4 3.4"/>
<polygon points="212.80,1016.40 224.30,1011.60 221.70,1016.40 224.30,1021.20" fill="#333333"/>
<polygon points="340.80,1016.40 329.30,1011.60 331.90,1016.40 329.30,1021.20" fill="#333333"/>
<line x1="399.40" y1="1016.40" x2="902.20" y2="1016.40" stroke="#333333" stroke-width="1.3" stroke-dasharray="4 3.4"/>
<polygon points="391.40,1016.40 402.90,1011.60 400.30,1016.40 402.90,1021.20" fill="#333333"/>
<polygon points="910.20,1016.40 898.70,1011.60 901.30,1016.40 898.70,1021.20" fill="#333333"/>
<text x="298.00" y="960.00" font-size="20" fill="#111">828 bp deletion</text>
<line x1="1125.70" y1="925.60" x2="1163.80" y2="925.60" stroke="#2a2a2a" stroke-width="1.55"/>
<line x1="1126.50" y1="921.60" x2="1126.50" y2="929.60" stroke="#2a2a2a" stroke-width="1.6"/>
<line x1="1163.00" y1="921.60" x2="1163.00" y2="929.60" stroke="#2a2a2a" stroke-width="1.6"/>
<text x="1121.00" y="915.20" font-size="15" fill="#111">200 bp</text>
<rect x="1057.20" y="966.30" width="23.80" height="15.80" fill="#EA838F"/>
<text x="1093.20" y="980.80" font-size="17.6" fill="#111">Exon</text>
<rect x="1057.20" y="997.20" width="23.80" height="15.80" fill="#868686"/>
<text x="1093.20" y="1011.80" font-size="17.6" fill="#111">Intron</text>
<text x="15.60" y="1132.20" font-size="20.15" fill="#111">11858 (BmBLOC1S6)  protein sequence</text>
<rect x="53.30" y="1165.20" width="433.10" height="48.20" fill="#676767"/>
<rect x="564.40" y="1165.20" width="11.20" height="48.20" fill="#676767"/>
<rect x="673.60" y="1165.20" width="10.60" height="48.20" fill="#676767"/>
<g font-size="16" text-anchor="middle">
<text x="61.4" y="1182" fill="#fff">M</text>
<text x="72.1" y="1182" fill="#fff">E</text>
<text x="82.7" y="1182" fill="#fff">N</text>
<text x="93.4" y="1182" fill="#fff">T</text>
<text x="104.0" y="1182" fill="#fff">E</text>
<text x="114.7" y="1182" fill="#fff">K</text>
<text x="125.3" y="1182" fill="#fff">A</text>
<text x="136.0" y="1182" fill="#fff">D</text>
<text x="146.6" y="1182" fill="#fff">L</text>
<text x="157.3" y="1182" fill="#fff">N</text>
<text x="167.9" y="1182" fill="#fff">D</text>
<text x="178.6" y="1182" fill="#fff">A</text>
<text x="189.2" y="1182" fill="#fff">K</text>
<text x="199.9" y="1182" fill="#fff">T</text>
<text x="210.5" y="1182" fill="#fff">C</text>
<text x="221.2" y="1182" fill="#fff">N</text>
<text x="231.8" y="1182" fill="#fff">L</text>
<text x="242.5" y="1182" fill="#fff">L</text>
<text x="253.1" y="1182" fill="#fff">A</text>
<text x="263.8" y="1182" fill="#fff">K</text>
<text x="274.2" y="1182" fill="#fff">G</text>
<text x="284.5" y="1182" fill="#fff">I</text>
<text x="294.9" y="1182" fill="#fff">L</text>
<text x="305.2" y="1182" fill="#fff">E</text>
<text x="315.6" y="1182" fill="#fff">L</text>
<text x="326.0" y="1182" fill="#fff">Y</text>
<text x="336.3" y="1182" fill="#fff">E</text>
<text x="346.7" y="1182" fill="#fff">P</text>
<text x="357.0" y="1182" fill="#fff">P</text>
<text x="367.4" y="1182" fill="#fff">L</text>
<text x="377.8" y="1182" fill="#fff">T</text>
<text x="388.1" y="1182" fill="#fff">T</text>
<text x="398.5" y="1182" fill="#fff">I</text>
<text x="408.8" y="1182" fill="#fff">N</text>
<text x="419.2" y="1182" fill="#fff">T</text>
<text x="429.6" y="1182" fill="#fff">H</text>
<text x="439.9" y="1182" fill="#fff">L</text>
<text x="450.3" y="1182" fill="#fff">K</text>
<text x="460.6" y="1182" fill="#fff">E</text>
<text x="471.0" y="1182" fill="#fff">L</text>
<text x="481.3" y="1182" fill="#fff">T</text>
<text x="492.3" y="1182" fill="#111">E</text>
<text x="503.2" y="1182" fill="#111">K</text>
<text x="514.2" y="1182" fill="#111">Q</text>
<text x="525.2" y="1182" fill="#111">D</text>
<text x="536.1" y="1182" fill="#111">A</text>
<text x="547.1" y="1182" fill="#111">I</text>
<text x="558.0" y="1182" fill="#111">H</text>
<text x="569.0" y="1182" fill="#fff">N</text>
<text x="580.0" y="1182" fill="#111">T</text>
<text x="590.9" y="1182" fill="#111">I</text>
<text x="601.9" y="1182" fill="#111">K</text>
<text x="612.9" y="1182" fill="#111">F</text>
<text x="623.8" y="1182" fill="#111">E</text>
<text x="634.8" y="1182" fill="#111">R</text>
<text x="645.7" y="1182" fill="#111">Q</text>
<text x="656.7" y="1182" fill="#111">K</text>
<text x="667.7" y="1182" fill="#111">L</text>
<text x="678.6" y="1182" fill="#fff">E</text>
<text x="689.6" y="1182" fill="#111">D</text>
<text x="61.4" y="1208" fill="#fff">M</text>
<text x="72.1" y="1208" fill="#fff">E</text>
<text x="82.7" y="1208" fill="#fff">N</text>
<text x="93.4" y="1208" fill="#fff">T</text>
<text x="104.0" y="1208" fill="#fff">E</text>
<text x="114.7" y="1208" fill="#fff">K</text>
<text x="125.3" y="1208" fill="#fff">A</text>
<text x="136.0" y="1208" fill="#fff">D</text>
<text x="146.6" y="1208" fill="#fff">L</text>
<text x="157.3" y="1208" fill="#fff">N</text>
<text x="167.9" y="1208" fill="#fff">D</text>
<text x="178.6" y="1208" fill="#fff">A</text>
<text x="189.2" y="1208" fill="#fff">K</text>
<text x="199.9" y="1208" fill="#fff">T</text>
<text x="210.5" y="1208" fill="#fff">C</text>
<text x="221.2" y="1208" fill="#fff">N</text>
<text x="231.8" y="1208" fill="#fff">L</text>
<text x="242.5" y="1208" fill="#fff">L</text>
<text x="253.1" y="1208" fill="#fff">A</text>
<text x="263.8" y="1208" fill="#fff">K</text>
<text x="274.2" y="1208" fill="#fff">G</text>
<text x="284.5" y="1208" fill="#fff">I</text>
<text x="294.9" y="1208" fill="#fff">L</text>
<text x="305.2" y="1208" fill="#fff">E</text>
<text x="315.6" y="1208" fill="#fff">L</text>
<text x="326.0" y="1208" fill="#fff">Y</text>
<text x="336.3" y="1208" fill="#fff">E</text>
<text x="346.7" y="1208" fill="#fff">P</text>
<text x="357.0" y="1208" fill="#fff">P</text>
<text x="367.4" y="1208" fill="#fff">L</text>
<text x="377.8" y="1208" fill="#fff">T</text>
<text x="388.1" y="1208" fill="#fff">T</text>
<text x="398.5" y="1208" fill="#fff">I</text>
<text x="408.8" y="1208" fill="#fff">N</text>
<text x="419.2" y="1208" fill="#fff">T</text>
<text x="429.6" y="1208" fill="#fff">H</text>
<text x="439.9" y="1208" fill="#fff">L</text>
<text x="450.3" y="1208" fill="#fff">K</text>
<text x="460.6" y="1208" fill="#fff">E</text>
<text x="471.0" y="1208" fill="#fff">L</text>
<text x="481.3" y="1208" fill="#fff">T</text>
<text x="492.3" y="1208" fill="#111">C</text>
<text x="503.2" y="1208" fill="#111">N</text>
<text x="514.2" y="1208" fill="#111">V</text>
<text x="525.2" y="1208" fill="#111">S</text>
<text x="536.1" y="1208" fill="#111">R</text>
<text x="547.1" y="1208" fill="#111">Y</text>
<text x="558.0" y="1208" fill="#111">C</text>
<text x="569.0" y="1208" fill="#fff">N</text>
<text x="580.0" y="1208" fill="#111">K</text>
<text x="590.9" y="1208" fill="#111">C</text>
<text x="601.9" y="1208" fill="#111">R</text>
<text x="612.9" y="1208" fill="#111">K</text>
<text x="623.8" y="1208" fill="#111">T</text>
<text x="634.8" y="1208" fill="#111">I</text>
<text x="645.7" y="1208" fill="#111">N</text>
<text x="656.7" y="1208" fill="#111">H</text>
<text x="667.7" y="1208" fill="#111">I</text>
<text x="678.6" y="1208" fill="#fff">E</text>
<text x="689.6" y="1208" fill="#111">F</text>
<text x="61.4" y="1273" fill="#111">I</text>
<text x="72.1" y="1273" fill="#111">Q</text>
<text x="82.7" y="1273" fill="#111">N</text>
<text x="93.4" y="1273" fill="#111">D</text>
<text x="104.0" y="1273" fill="#111">A</text>
<text x="114.7" y="1273" fill="#111">M</text>
<text x="125.3" y="1273" fill="#111">L</text>
<text x="136.0" y="1273" fill="#111">D</text>
<text x="146.6" y="1273" fill="#111">A</text>
<text x="157.3" y="1273" fill="#111">M</text>
<text x="167.9" y="1273" fill="#111">L</text>
<text x="178.6" y="1273" fill="#111">A</text>
<text x="189.2" y="1273" fill="#111">D</text>
<text x="199.9" y="1273" fill="#111">I</text>
<text x="210.5" y="1273" fill="#111">A</text>
<text x="221.2" y="1273" fill="#111">T</text>
<text x="231.8" y="1273" fill="#111">N</text>
<text x="242.5" y="1273" fill="#111">R</text>
<text x="253.1" y="1273" fill="#111">E</text>
<text x="263.8" y="1273" fill="#111">K</text>
<text x="274.2" y="1273" fill="#111">L</text>
<text x="284.5" y="1273" fill="#111">L</text>
<text x="294.9" y="1273" fill="#111">T</text>
<text x="305.2" y="1273" fill="#111">I</text>
<text x="315.6" y="1273" fill="#111">S</text>
<text x="326.0" y="1273" fill="#111">N</text>
<text x="336.3" y="1273" fill="#111">S</text>
<text x="346.7" y="1273" fill="#111">M</text>
<text x="357.0" y="1273" fill="#111">M</text>
<text x="367.4" y="1273" fill="#111">V</text>
<text x="377.8" y="1273" fill="#111">L</text>
<text x="388.1" y="1273" fill="#111">H</text>
<text x="398.5" y="1273" fill="#111">K</text>
<text x="408.8" y="1273" fill="#111">R</text>
<text x="419.2" y="1273" fill="#111">V</text>
<text x="429.6" y="1273" fill="#111">Q</text>
<text x="439.9" y="1273" fill="#111">S</text>
<text x="450.3" y="1273" fill="#111">L</text>
<text x="460.6" y="1273" fill="#111">Q</text>
<text x="471.0" y="1273" fill="#111">V</text>
<text x="481.3" y="1273" fill="#111">R</text>
<text x="492.3" y="1273" fill="#111">A</text>
<text x="503.2" y="1273" fill="#111">A</text>
<text x="514.2" y="1273" fill="#111">N</text>
<text x="525.2" y="1273" fill="#111">V</text>
<text x="536.1" y="1273" fill="#111">E</text>
<text x="547.1" y="1273" fill="#111">K</text>
<text x="558.0" y="1273" fill="#111">A</text>
<text x="569.0" y="1273" fill="#111">A</text>
<text x="580.0" y="1273" fill="#111">N</text>
<text x="590.9" y="1273" fill="#111">T</text>
<text x="601.9" y="1273" fill="#111">R</text>
<text x="612.9" y="1273" fill="#111">A</text>
<text x="623.8" y="1273" fill="#111">A</text>
<text x="634.8" y="1273" fill="#111">I</text>
<text x="645.7" y="1273" fill="#111">S</text>
<text x="656.7" y="1273" fill="#111">K</text>
<text x="667.7" y="1273" fill="#111">H</text>
<text x="678.6" y="1273" fill="#111">T</text>
<text x="689.6" y="1273" fill="#111">R</text>
<text x="700.5" y="1273" fill="#111">S</text>
<text x="61.4" y="1300.5" fill="#111">N</text>
<text x="72.1" y="1300.5" fill="#111">D</text>
<text x="82.7" y="1300.5" fill="#111">G</text>
<text x="93.4" y="1300.5" fill="#111">T</text>
<text x="104.0" y="1300.5" fill="#111">T</text>
</g>
<line x1="111.46" y1="1294.30" x2="117.86" y2="1294.30" stroke="#333" stroke-width="1.1"/>
<line x1="122.12" y1="1294.30" x2="128.52" y2="1294.30" stroke="#333" stroke-width="1.1"/>
<line x1="132.77" y1="1294.30" x2="139.17" y2="1294.30" stroke="#333" stroke-width="1.1"/>
<line x1="143.42" y1="1294.30" x2="149.82" y2="1294.30" stroke="#333" stroke-width="1.1"/>
<line x1="154.07" y1="1294.30" x2="160.47" y2="1294.30" stroke="#333" stroke-width="1.1"/>
<line x1="164.73" y1="1294.30" x2="171.13" y2="1294.30" stroke="#333" stroke-width="1.1"/>
<line x1="175.38" y1="1294.30" x2="181.78" y2="1294.30" stroke="#333" stroke-width="1.1"/>
<line x1="186.03" y1="1294.30" x2="192.43" y2="1294.30" stroke="#333" stroke-width="1.1"/>
<line x1="196.68" y1="1294.30" x2="203.08" y2="1294.30" stroke="#333" stroke-width="1.1"/>
<line x1="207.34" y1="1294.30" x2="213.74" y2="1294.30" stroke="#333" stroke-width="1.1"/>
<line x1="217.99" y1="1294.30" x2="224.39" y2="1294.30" stroke="#333" stroke-width="1.1"/>
<line x1="228.64" y1="1294.30" x2="235.04" y2="1294.30" stroke="#333" stroke-width="1.1"/>
<line x1="239.29" y1="1294.30" x2="245.69" y2="1294.30" stroke="#333" stroke-width="1.1"/>
<line x1="249.95" y1="1294.30" x2="256.35" y2="1294.30" stroke="#333" stroke-width="1.1"/>
<line x1="260.60" y1="1294.30" x2="267.00" y2="1294.30" stroke="#333" stroke-width="1.1"/>
<line x1="270.96" y1="1294.30" x2="277.36" y2="1294.30" stroke="#333" stroke-width="1.1"/>
<line x1="281.32" y1="1294.30" x2="287.72" y2="1294.30" stroke="#333" stroke-width="1.1"/>
<line x1="291.68" y1="1294.30" x2="298.08" y2="1294.30" stroke="#333" stroke-width="1.1"/>
<line x1="302.04" y1="1294.30" x2="308.44" y2="1294.30" stroke="#333" stroke-width="1.1"/>
<line x1="312.40" y1="1294.30" x2="318.80" y2="1294.30" stroke="#333" stroke-width="1.1"/>
<line x1="322.76" y1="1294.30" x2="329.16" y2="1294.30" stroke="#333" stroke-width="1.1"/>
<line x1="333.12" y1="1294.30" x2="339.52" y2="1294.30" stroke="#333" stroke-width="1.1"/>
<line x1="343.48" y1="1294.30" x2="349.88" y2="1294.30" stroke="#333" stroke-width="1.1"/>
<line x1="353.84" y1="1294.30" x2="360.24" y2="1294.30" stroke="#333" stroke-width="1.1"/>
<line x1="364.20" y1="1294.30" x2="370.60" y2="1294.30" stroke="#333" stroke-width="1.1"/>
<line x1="374.56" y1="1294.30" x2="380.96" y2="1294.30" stroke="#333" stroke-width="1.1"/>
<line x1="384.92" y1="1294.30" x2="391.32" y2="1294.30" stroke="#333" stroke-width="1.1"/>
<line x1="395.28" y1="1294.30" x2="401.68" y2="1294.30" stroke="#333" stroke-width="1.1"/>
<line x1="405.64" y1="1294.30" x2="412.04" y2="1294.30" stroke="#333" stroke-width="1.1"/>
<line x1="416.00" y1="1294.30" x2="422.40" y2="1294.30" stroke="#333" stroke-width="1.1"/>
<line x1="426.36" y1="1294.30" x2="432.76" y2="1294.30" stroke="#333" stroke-width="1.1"/>
<line x1="436.72" y1="1294.30" x2="443.12" y2="1294.30" stroke="#333" stroke-width="1.1"/>
<line x1="447.08" y1="1294.30" x2="453.48" y2="1294.30" stroke="#333" stroke-width="1.1"/>
<line x1="457.44" y1="1294.30" x2="463.84" y2="1294.30" stroke="#333" stroke-width="1.1"/>
<line x1="467.80" y1="1294.30" x2="474.20" y2="1294.30" stroke="#333" stroke-width="1.1"/>
<line x1="478.10" y1="1294.30" x2="484.50" y2="1294.30" stroke="#333" stroke-width="1.1"/>
<line x1="489.06" y1="1294.30" x2="495.46" y2="1294.30" stroke="#333" stroke-width="1.1"/>
<line x1="500.03" y1="1294.30" x2="506.43" y2="1294.30" stroke="#333" stroke-width="1.1"/>
<line x1="510.99" y1="1294.30" x2="517.39" y2="1294.30" stroke="#333" stroke-width="1.1"/>
<line x1="521.95" y1="1294.30" x2="528.35" y2="1294.30" stroke="#333" stroke-width="1.1"/>
<line x1="532.92" y1="1294.30" x2="539.32" y2="1294.30" stroke="#333" stroke-width="1.1"/>
<line x1="543.88" y1="1294.30" x2="550.28" y2="1294.30" stroke="#333" stroke-width="1.1"/>
<line x1="554.84" y1="1294.30" x2="561.24" y2="1294.30" stroke="#333" stroke-width="1.1"/>
<line x1="565.81" y1="1294.30" x2="572.21" y2="1294.30" stroke="#333" stroke-width="1.1"/>
<line x1="576.77" y1="1294.30" x2="583.17" y2="1294.30" stroke="#333" stroke-width="1.1"/>
<line x1="587.73" y1="1294.30" x2="594.13" y2="1294.30" stroke="#333" stroke-width="1.1"/>
<line x1="598.69" y1="1294.30" x2="605.09" y2="1294.30" stroke="#333" stroke-width="1.1"/>
<line x1="609.66" y1="1294.30" x2="616.06" y2="1294.30" stroke="#333" stroke-width="1.1"/>
<line x1="620.62" y1="1294.30" x2="627.02" y2="1294.30" stroke="#333" stroke-width="1.1"/>
<line x1="631.58" y1="1294.30" x2="637.98" y2="1294.30" stroke="#333" stroke-width="1.1"/>
<line x1="642.55" y1="1294.30" x2="648.95" y2="1294.30" stroke="#333" stroke-width="1.1"/>
<line x1="653.51" y1="1294.30" x2="659.91" y2="1294.30" stroke="#333" stroke-width="1.1"/>
<line x1="664.47" y1="1294.30" x2="670.87" y2="1294.30" stroke="#333" stroke-width="1.1"/>
<line x1="675.44" y1="1294.30" x2="681.84" y2="1294.30" stroke="#333" stroke-width="1.1"/>
<line x1="686.40" y1="1294.30" x2="692.80" y2="1294.30" stroke="#333" stroke-width="1.1"/>
<line x1="697.30" y1="1294.30" x2="703.70" y2="1294.30" stroke="#333" stroke-width="1.1"/>
<text x="263.80" y="1159.70" font-size="13" fill="#111" text-anchor="middle">20</text>
<text x="469.50" y="1159.70" font-size="13" fill="#111" text-anchor="middle">40</text>
<text x="689.60" y="1159.70" font-size="13" fill="#111" text-anchor="middle">60</text>
<text x="263.80" y="1249.00" font-size="13" fill="#111" text-anchor="middle">80</text>
<text x="469.50" y="1249.00" font-size="13" fill="#111" text-anchor="middle">100</text>
<text x="689.60" y="1249.00" font-size="13" fill="#111" text-anchor="middle">120</text>
<text x="17.50" y="1183.50" font-size="20" fill="#111">WT</text>
<text x="21.00" y="1209.50" font-size="20" fill="#111" font-style="italic">oh</text>
<text x="17.50" y="1273.00" font-size="20" fill="#111">WT</text>
<text x="21.00" y="1301.50" font-size="20" fill="#111" font-style="italic">oh</text>
<text x="759.20" y="1132.20" font-size="20.2" fill="#111">11858 (BmBLOC1S6)  protein structure</text>
<text x="761.00" y="1197.30" font-size="20" fill="#111">WT</text>
<text x="766.50" y="1284.50" font-size="20" fill="#111" font-style="italic">oh</text>
<polyline points="799.00,1215.62 799.27,1214.93 799.43,1214.27 799.49,1213.68 799.46,1213.19 799.36,1212.82 799.21,1212.59 799.04,1212.52 798.87,1212.60 798.72,1212.83 798.62,1213.21 798.59,1213.70 798.65,1214.30 798.80,1214.96 799.07,1215.65 799.44,1216.35 799.93,1217.01 800.51,1217.60 801.18,1218.09 801.92,1218.45 802.71,1218.68 803.52,1218.75 804.33,1218.66 805.11,1218.43 805.85,1218.05 806.51,1217.55 807.09,1216.96 807.57,1216.30 807.93,1215.61 808.19,1214.92 808.34,1214.27 808.39,1213.69 808.35,1213.21 808.25,1212.85 808.10,1212.64 807.92,1212.58 807.75,1212.68 807.61,1212.93 807.51,1213.32 807.49,1213.83 807.56,1214.43 807.73,1215.10 808.00,1215.79 808.39,1216.49 808.88,1217.14 809.48,1217.72 810.16,1218.20 810.90,1218.55 811.69,1218.76 812.51,1218.81 813.31,1218.71 814.09,1218.46 814.82,1218.06 815.48,1217.56 816.05,1216.95 816.51,1216.29 816.87,1215.60 817.11,1214.91 817.25,1214.26 817.29,1213.69 817.24,1213.23 817.13,1212.89 816.98,1212.69 816.80,1212.65 816.63,1212.76 816.50,1213.03 816.41,1213.43 816.39,1213.95 816.47,1214.56 816.65,1215.24 816.94,1215.93 817.34,1216.62 817.84,1217.27 818.45,1217.84 819.13,1218.30 819.89,1218.64 820.68,1218.83 821.49,1218.87 822.30,1218.75 823.08,1218.49 823.80,1218.08 824.44,1217.56 825.00,1216.95 825.45,1216.28 825.80,1215.58 826.03,1214.90 826.16,1214.26 826.19,1213.70 826.13,1213.25 826.02,1212.92 825.86,1212.74 825.69,1212.72 825.52,1212.85 825.38,1213.13 825.30,1213.55 825.30,1214.08 825.38,1214.70 825.58,1215.37 825.88,1216.07 826.29,1216.76 826.80,1217.40 827.42,1217.96 828.11,1218.41 828.87,1218.73 829.67,1218.91 830.48,1218.93 831.28,1218.80 832.06,1218.51 832.77,1218.09 833.41,1217.56 833.95,1216.94 834.40,1216.27 834.73,1215.57 834.95,1214.89 835.06,1214.26 835.08,1213.71 835.02,1213.27 834.90,1212.96 834.74,1212.80 834.57,1212.79 834.40,1212.94 834.27,1213.23 834.20,1213.66 834.20,1214.21 834.30,1214.83 834.50,1215.51 834.81,1216.21 835.24,1216.90 835.77,1217.53 836.39,1218.08 837.09,1218.52 837.85,1218.82 838.65,1218.98 839.47,1218.99 840.27,1218.84 841.04,1218.54 841.74,1218.11 842.37,1217.56 842.91,1216.94 843.34,1216.26 843.66,1215.56 843.87,1214.89 843.97,1214.26 843.98,1213.72 843.91,1213.30 843.79,1213.00 843.62,1212.85 843.45,1212.86 843.28,1213.03 843.16,1213.34 843.09,1213.78 843.11,1214.34 843.22,1214.97 843.43,1215.65 843.75,1216.35 844.19,1217.03 844.73,1217.66 845.36,1218.20 846.07,1218.62 846.84,1218.91 847.64,1219.06 848.45,1219.04 849.25,1218.88 850.01,1218.56 850.71,1218.12 851.33,1217.56 851.86,1216.93 852.28,1216.25 852.58,1215.55 852.78,1214.88 852.88,1214.27 852.88,1213.74 852.80,1213.32 852.67,1213.04" fill="none" stroke="#1B7BA6" stroke-width="1.7600000000000002" stroke-linejoin="round" stroke-linecap="round"/>
<polyline points="799.00,1215.62 799.27,1214.93 799.43,1214.27 799.49,1213.68 799.46,1213.19 799.36,1212.82 799.21,1212.59 799.04,1212.52 798.87,1212.60 798.72,1212.83 798.62,1213.21 798.59,1213.70 798.65,1214.30 798.80,1214.96 799.07,1215.65 799.44,1216.35" fill="none" stroke="#2897C9" stroke-width="4.4" stroke-linecap="round" stroke-linejoin="round"/>
<polyline points="807.57,1216.30 807.93,1215.61 808.19,1214.92 808.34,1214.27 808.39,1213.69 808.35,1213.21 808.25,1212.85 808.10,1212.64 807.92,1212.58 807.75,1212.68 807.61,1212.93 807.51,1213.32 807.49,1213.83 807.56,1214.43 807.73,1215.10 808.00,1215.79 808.39,1216.49" fill="none" stroke="#2897C9" stroke-width="4.4" stroke-linecap="round" stroke-linejoin="round"/>
<polyline points="816.51,1216.29 816.87,1215.60 817.11,1214.91 817.25,1214.26 817.29,1213.69 817.24,1213.23 817.13,1212.89 816.98,1212.69 816.80,1212.65 816.63,1212.76 816.50,1213.03 816.41,1213.43 816.39,1213.95 816.47,1214.56 816.65,1215.24 816.94,1215.93 817.34,1216.62" fill="none" stroke="#2897C9" stroke-width="4.4" stroke-linecap="round" stroke-linejoin="round"/>
<polyline points="825.45,1216.28 825.80,1215.58 826.03,1214.90 826.16,1214.26 826.19,1213.70 826.13,1213.25 826.02,1212.92 825.86,1212.74 825.69,1212.72 825.52,1212.85 825.38,1213.13 825.30,1213.55 825.30,1214.08 825.38,1214.70 825.58,1215.37 825.88,1216.07 826.29,1216.76" fill="none" stroke="#2897C9" stroke-width="4.4" stroke-linecap="round" stroke-linejoin="round"/>
<polyline points="833.95,1216.94 834.40,1216.27 834.73,1215.57 834.95,1214.89 835.06,1214.26 835.08,1213.71 835.02,1213.27 834.90,1212.96 834.74,1212.80 834.57,1212.79 834.40,1212.94 834.27,1213.23 834.20,1213.66 834.20,1214.21 834.30,1214.83 834.50,1215.51 834.81,1216.21 835.24,1216.90" fill="none" stroke="#2897C9" stroke-width="4.4" stroke-linecap="round" stroke-linejoin="round"/>
<polyline points="842.91,1216.94 843.34,1216.26 843.66,1215.56 843.87,1214.89 843.97,1214.26 843.98,1213.72 843.91,1213.30 843.79,1213.00 843.62,1212.85 843.45,1212.86 843.28,1213.03 843.16,1213.34 843.09,1213.78 843.11,1214.34 843.22,1214.97 843.43,1215.65 843.75,1216.35" fill="none" stroke="#2897C9" stroke-width="4.4" stroke-linecap="round" stroke-linejoin="round"/>
<polyline points="851.86,1216.93 852.28,1216.25 852.58,1215.55 852.78,1214.88 852.88,1214.27 852.88,1213.74 852.80,1213.32 852.67,1213.04" fill="none" stroke="#2897C9" stroke-width="4.4" stroke-linecap="round" stroke-linejoin="round"/>
<polyline points="853.65,1211.88 853.44,1211.60 853.27,1211.48 853.17,1211.52 853.16,1211.72 853.25,1212.05 853.45,1212.48 853.78,1213.00 854.22,1213.57 854.77,1214.15 855.42,1214.70 856.16,1215.19 856.95,1215.59 857.78,1215.86 858.61,1215.99 859.43,1215.97 860.21,1215.78 860.91,1215.43 861.53,1214.93 862.05,1214.30 862.45,1213.55 862.73,1212.73 862.89,1211.86 862.95,1210.98 862.90,1210.12 862.77,1209.33 862.59,1208.63 862.37,1208.05 862.14,1207.62 861.93,1207.34 861.76,1207.23 861.67,1207.28 861.66,1207.48 861.51,1208.08 861.77,1208.50 862.16,1208.98 862.67,1209.49 863.29,1210.00 864.00,1210.47 864.79,1210.87 865.62,1211.17 866.48,1211.35 867.32,1211.38 868.13,1211.25 868.87,1210.97 869.53,1210.54 870.09,1209.97 870.52,1209.27 870.83,1208.48 871.01,1207.63 871.07,1206.75 871.02,1205.87 870.87,1205.02 870.65,1204.26 870.38,1203.59 870.10,1203.04 869.82,1202.64 869.59,1202.40 869.41,1202.31 869.32,1202.38 869.34,1202.58 869.48,1202.90 869.74,1203.32 870.13,1203.81 870.64,1204.32 871.27,1204.83 871.98,1205.30 872.77,1205.69 873.61,1205.99 874.46,1206.16 875.31,1206.18 876.11,1206.05 876.86,1205.77 877.51,1205.33 878.06,1204.75 878.49,1204.05 878.79,1203.26 878.97,1202.41 879.02,1201.52 878.97,1200.64 878.82,1199.80 878.60,1199.04 878.33,1198.37 878.04,1197.83 877.77,1197.44 877.53,1197.20 877.36,1197.12 877.28,1197.19 877.30,1197.40 877.44,1197.72 877.71,1198.15 878.10,1198.63 878.62,1199.14 879.25,1199.65 879.97,1200.12 880.76,1200.51 881.59,1200.80 882.45,1200.97 883.29,1200.99 884.10,1200.85 884.84,1200.56 885.49,1200.12 886.03,1199.53 886.46,1198.83 886.76,1198.04 886.93,1197.18 886.98,1196.30 886.92,1195.42 886.77,1194.58 886.54,1193.82 886.27,1193.16 885.99,1192.62 885.71,1192.24 885.48,1192.00 885.31,1191.93 885.23,1192.00 885.26,1192.21 885.40,1192.55 885.67,1192.97 886.07,1193.46 886.60,1193.97 887.23,1194.48 887.95,1194.94 888.74,1195.33 889.58,1195.62 890.44,1195.78 891.28,1195.79 892.08,1195.65 892.82,1195.35 893.46,1194.90 894.01,1194.32 894.43,1193.61 894.72,1192.81 894.89,1191.96 894.93,1191.07 894.87,1190.19 894.71,1189.36 894.49,1188.60 894.22,1187.94 893.93,1187.41 893.66,1187.03 893.43,1186.80 893.26,1186.73 893.18,1186.81 893.21,1187.03 893.37,1187.37 893.64,1187.79 894.05,1188.28 894.57,1188.80 895.21,1189.30 895.93,1189.77 896.73,1190.15 897.57,1190.43 898.42,1190.59 899.26,1190.60 900.06,1190.45 900.80,1190.15 901.44,1189.69 901.98,1189.10 902.39,1188.39 902.68,1187.59 902.85,1186.73 902.89,1185.85 902.82,1184.97 902.66,1184.14 902.43,1183.38 902.16,1182.73 901.88,1182.20 901.61,1181.83 901.38,1181.61 901.21,1181.54 901.14,1181.63 901.17,1181.85 901.33,1182.19 901.61,1182.62 902.02,1183.11 902.55,1183.62 903.19,1184.13 903.92,1184.59 904.71,1184.97 905.55,1185.25 906.41,1185.40 907.25,1185.40 908.05,1185.25 908.78,1184.94 909.42,1184.48 909.95,1183.88 910.36,1183.17 910.65,1182.37 910.81,1181.51 910.84,1180.62 910.77,1179.74 910.61,1178.91 910.38,1178.16 910.11,1177.51 909.82,1177.00 909.55,1176.62 909.32,1176.41 909.16,1176.35 909.09,1176.44 909.13,1176.67 909.29,1177.01 909.58,1177.44 909.99,1177.93 910.53,1178.45 911.17,1178.95 911.90,1179.41 912.70,1179.79 913.54,1180.06 914.39,1180.21 915.23,1180.21 916.03,1180.05 916.76,1179.73 917.40,1179.27 917.92,1178.67 918.33,1177.95 918.61,1177.14 918.76,1176.28 918.80,1175.39 918.72,1174.52 918.56,1173.69 918.33,1172.94 918.05,1172.30 917.77,1171.79 917.50,1171.42 917.27,1171.21 917.11,1171.16 917.05,1171.25 917.09,1171.48 917.25,1171.83 917.55,1172.27 917.96,1172.76 918.50,1173.27 919.15,1173.78 919.88,1174.23 920.68,1174.61 921.53,1174.88 922.38,1175.02 923.22,1175.01 924.01,1174.85 924.74,1174.53 925.37,1174.06 925.90,1173.45 926.30,1172.73 926.57,1171.92 926.72,1171.06 926.75,1170.17 926.67,1169.30 926.50,1168.47 926.27,1167.72 926.00,1167.08 925.71,1166.58 925.44,1166.22 925.22,1166.01 925.06,1165.96 925.00,1166.06 925.05,1166.30 925.22,1166.65 925.51,1167.09 925.94,1167.58 926.48,1168.10 927.13,1168.60 927.87,1169.06 928.67,1169.43 929.51,1169.69 930.37,1169.83 931.20,1169.81 932.00,1169.64 932.72,1169.32 933.35,1168.84 933.87,1168.23 934.27,1167.51 934.54,1166.70 934.68,1165.83 934.70,1164.94 934.62,1164.07 934.45,1163.25 934.22,1162.50 933.94,1161.87 933.66,1161.37 933.39,1161.01 933.17,1160.81 933.02,1160.77 932.96,1160.88 933.01,1161.12 933.18,1161.47 933.48,1161.92" fill="none" stroke="#1B7BA6" stroke-width="1.9800000000000002" stroke-linejoin="round" stroke-linecap="round"/>
<polyline points="853.65,1211.88 853.44,1211.60 853.27,1211.48 853.17,1211.52 853.16,1211.72 853.25,1212.05 853.45,1212.48 853.78,1213.00 854.22,1213.57 854.77,1214.15 855.42,1214.70 856.16,1215.19" fill="none" stroke="#2897C9" stroke-width="4.4" stroke-linecap="round" stroke-linejoin="round"/>
<polyline points="862.89,1211.86 862.95,1210.98 862.90,1210.12 862.77,1209.33 862.59,1208.63 862.37,1208.05 862.14,1207.62 861.93,1207.34 861.76,1207.23 861.67,1207.28 861.66,1207.48 861.51,1208.08 861.77,1208.50 862.16,1208.98 862.67,1209.49 863.29,1210.00 864.00,1210.47 864.79,1210.87" fill="none" stroke="#2897C9" stroke-width="4.4" stroke-linecap="round" stroke-linejoin="round"/>
<polyline points="871.07,1206.75 871.02,1205.87 870.87,1205.02 870.65,1204.26 870.38,1203.59 870.10,1203.04 869.82,1202.64 869.59,1202.40 869.41,1202.31 869.32,1202.38 869.34,1202.58 869.48,1202.90 869.74,1203.32 870.13,1203.81 870.64,1204.32 871.27,1204.83 871.98,1205.30 872.77,1205.69" fill="none" stroke="#2897C9" stroke-width="4.4" stroke-linecap="round" stroke-linejoin="round"/>
<polyline points="879.02,1201.52 878.97,1200.64 878.82,1199.80 878.60,1199.04 878.33,1198.37 878.04,1197.83 877.77,1197.44 877.53,1197.20 877.36,1197.12 877.28,1197.19 877.30,1197.40 877.44,1197.72 877.71,1198.15 878.10,1198.63 878.62,1199.14 879.25,1199.65 879.97,1200.12 880.76,1200.51" fill="none" stroke="#2897C9" stroke-width="4.4" stroke-linecap="round" stroke-linejoin="round"/>
<polyline points="886.98,1196.30 886.92,1195.42 886.77,1194.58 886.54,1193.82 886.27,1193.16 885.99,1192.62 885.71,1192.24 885.48,1192.00 885.31,1191.93 885.23,1192.00 885.26,1192.21 885.40,1192.55 885.67,1192.97 886.07,1193.46 886.60,1193.97 887.23,1194.48 887.95,1194.94" fill="none" stroke="#2897C9" stroke-width="4.4" stroke-linecap="round" stroke-linejoin="round"/>
<polyline points="894.93,1191.07 894.87,1190.19 894.71,1189.36 894.49,1188.60 894.22,1187.94 893.93,1187.41 893.66,1187.03 893.43,1186.80 893.26,1186.73 893.18,1186.81 893.21,1187.03 893.37,1187.37 893.64,1187.79 894.05,1188.28 894.57,1188.80 895.21,1189.30 895.93,1189.77" fill="none" stroke="#2897C9" stroke-width="4.4" stroke-linecap="round" stroke-linejoin="round"/>
<polyline points="902.89,1185.85 902.82,1184.97 902.66,1184.14 902.43,1183.38 902.16,1182.73 901.88,1182.20 901.61,1181.83 901.38,1181.61 901.21,1181.54 901.14,1181.63 901.17,1181.85 901.33,1182.19 901.61,1182.62 902.02,1183.11 902.55,1183.62 903.19,1184.13 903.92,1184.59" fill="none" stroke="#2897C9" stroke-width="4.4" stroke-linecap="round" stroke-linejoin="round"/>
<polyline points="910.84,1180.62 910.77,1179.74 910.61,1178.91 910.38,1178.16 910.11,1177.51 909.82,1177.00 909.55,1176.62 909.32,1176.41 909.16,1176.35 909.09,1176.44 909.13,1176.67 909.29,1177.01 909.58,1177.44 909.99,1177.93 910.53,1178.45 911.17,1178.95 911.90,1179.41" fill="none" stroke="#2897C9" stroke-width="4.4" stroke-linecap="round" stroke-linejoin="round"/>
<polyline points="918.80,1175.39 918.72,1174.52 918.56,1173.69 918.33,1172.94 918.05,1172.30 917.77,1171.79 917.50,1171.42 917.27,1171.21 917.11,1171.16 917.05,1171.25 917.09,1171.48 917.25,1171.83 917.55,1172.27 917.96,1172.76 918.50,1173.27 919.15,1173.78 919.88,1174.23" fill="none" stroke="#2897C9" stroke-width="4.4" stroke-linecap="round" stroke-linejoin="round"/>
<polyline points="926.75,1170.17 926.67,1169.30 926.50,1168.47 926.27,1167.72 926.00,1167.08 925.71,1166.58 925.44,1166.22 925.22,1166.01 925.06,1165.96 925.00,1166.06 925.05,1166.30 925.22,1166.65 925.51,1167.09 925.94,1167.58 926.48,1168.10 927.13,1168.60 927.87,1169.06" fill="none" stroke="#2897C9" stroke-width="4.4" stroke-linecap="round" stroke-linejoin="round"/>
<polyline points="934.70,1164.94 934.62,1164.07 934.45,1163.25 934.22,1162.50 933.94,1161.87 933.66,1161.37 933.39,1161.01 933.17,1160.81 933.02,1160.77 932.96,1160.88 933.01,1161.12 933.18,1161.47 933.48,1161.92" fill="none" stroke="#2897C9" stroke-width="4.4" stroke-linecap="round" stroke-linejoin="round"/>
<path d="M937,1162 C942,1160 938,1156 944,1153" fill="none" stroke="#1B7BA6" stroke-width="1.2"/>
<polyline points="947.20,1152.25 947.61,1151.37 947.96,1150.54 948.25,1149.79 948.49,1149.17 948.69,1148.70 948.85,1148.41 948.99,1148.32 949.12,1148.43 949.26,1148.73 949.42,1149.22 949.60,1149.86 949.83,1150.64 950.12,1151.50 950.45,1152.40 950.85,1153.31 951.31,1154.18 951.83,1154.95 952.40,1155.61 953.01,1156.11 953.66,1156.42 954.33,1156.54 955.00,1156.46 955.67,1156.19 956.32,1155.73 956.94,1155.11 957.52,1154.37 958.04,1153.54 958.51,1152.67 958.92,1151.80 959.26,1150.97 959.55,1150.22 959.79,1149.61 959.98,1149.14 960.14,1148.86 960.28,1148.78 960.42,1148.90 960.56,1149.21 960.71,1149.71 960.90,1150.36 961.14,1151.14 961.42,1152.00 961.76,1152.91 962.16,1153.81 962.63,1154.68 963.15,1155.45 963.72,1156.10 964.33,1156.59 964.98,1156.89 965.65,1157.01 966.32,1156.92 966.99,1156.63 967.64,1156.17 968.26,1155.55 968.83,1154.80 969.36,1153.97 969.82,1153.09 970.22,1152.22 970.57,1151.39 970.86,1150.65 971.09,1150.04 971.28,1149.59 971.44,1149.32 971.58,1149.24 971.71,1149.37 971.85,1149.69 972.01,1150.20 972.20,1150.85 972.44,1151.64 972.73,1152.50 973.07,1153.41 973.47,1154.32 973.94,1155.17 974.46,1155.94 975.04,1156.58 975.65,1157.07 976.30,1157.37 976.97,1157.47 977.65,1157.37 978.31,1157.08 978.96,1156.60 979.58,1155.98 980.15,1155.22 980.67,1154.39 981.13,1153.51 981.53,1152.64 981.87,1151.82 982.16,1151.08 982.39,1150.48 982.58,1150.03 982.74,1149.77 982.88,1149.71 983.01,1149.84 983.15,1150.17 983.31,1150.68 983.50,1151.35 983.74,1152.14 984.03,1153.00 984.38,1153.91 984.78,1154.82 985.25,1155.67 985.78,1156.44 986.35,1157.07 986.97,1157.55 987.62,1157.84 988.29,1157.93 988.97,1157.82 989.63,1157.52 990.28,1157.04 990.91,1156.40 991.47,1155.64 991.98,1154.80 992.44,1153.92 992.84,1153.05 993.17,1152.23 993.45,1151.50 993.68,1150.90 993.86,1150.46 994.02,1150.21 994.16,1150.15 994.29,1150.30 994.43,1150.64 994.60,1151.15 994.79,1151.82 995.04,1152.61 995.33,1153.48 995.69,1154.39 996.10,1155.29 996.58,1156.14 997.11,1156.90 997.69,1157.52 998.31,1157.99 998.96,1158.27 999.63,1158.35 1000.31,1158.23 1000.97,1157.91 1001.62,1157.42 1002.22,1156.78 1002.79,1156.02 1003.30,1155.17 1003.75,1154.29 1004.14,1153.42 1004.48,1152.60 1004.75,1151.88 1004.98,1151.29 1005.16,1150.86 1005.32,1150.61 1005.46,1150.57 1005.59,1150.72 1005.73,1151.07 1005.90,1151.59 1006.10,1152.27 1006.34,1153.06 1006.64,1153.93 1007.00,1154.84 1007.41,1155.74 1007.89,1156.59 1008.42,1157.34 1009.01,1157.96 1009.63,1158.42 1010.29,1158.69 1010.96,1158.76 1011.63,1158.63 1012.30,1158.31 1012.94,1157.81 1013.54,1157.16 1014.11,1156.39 1014.61,1155.54 1015.06,1154.66 1015.45,1153.79 1015.78,1152.98 1016.06,1152.26 1016.28,1151.68 1016.46,1151.25 1016.62,1151.02 1016.75,1150.98 1016.89,1151.14 1017.03,1151.50 1017.20,1152.03 1017.40,1152.71 1017.65,1153.51 1017.95,1154.39 1018.31,1155.30 1018.73,1156.20 1019.21,1157.04 1019.74,1157.78 1020.33,1158.40 1020.95,1158.84 1021.61,1159.10 1022.28,1159.17 1022.95,1159.03 1023.62,1158.70 1024.26,1158.19 1024.86,1157.54 1025.42,1156.76 1025.93,1155.92 1026.38,1155.04 1026.76,1154.17 1027.09,1153.35 1027.36,1152.64 1027.58,1152.06 1027.76,1151.65 1027.92,1151.42 1028.05,1151.39 1028.19,1151.56 1028.33,1151.93 1028.50,1152.47 1028.70,1153.16 1028.95,1153.96 1029.26,1154.84 1029.62,1155.75 1030.04,1156.65 1030.52,1157.49 1031.06,1158.23 1031.65,1158.83 1032.28,1159.27 1032.93,1159.52 1033.60,1159.58 1034.28,1159.43 1034.94,1159.09 1035.58,1158.58 1036.18,1157.91 1036.74,1157.14 1037.24,1156.29 1037.69,1155.41 1038.07,1154.54 1038.40,1153.73 1038.66,1153.02 1038.88,1152.45 1039.06,1152.04 1039.22,1151.83 1039.35,1151.81 1039.49,1151.99 1039.63,1152.36 1039.80,1152.91 1040.01,1153.60 1040.26,1154.41 1040.56,1155.29 1040.93,1156.20 1041.35,1157.10 1041.84,1157.93 1042.38,1158.67 1042.97,1159.26 1043.60,1159.70 1044.25,1159.94 1044.93,1159.98 1045.91,1159.77 1046.54,1159.37 1047.13,1158.80 1047.68,1158.08 1048.17,1157.26 1048.60,1156.37 1048.97,1155.45 1049.28,1154.56 1049.53,1153.73 1049.74,1153.01 1049.91,1152.43 1050.06,1152.02 1050.19,1151.80 1050.33,1151.78 1050.48,1151.96 1050.65,1152.32 1050.87,1152.86 1051.13,1153.54 1051.45,1154.33 1051.83,1155.19 1052.27,1156.07 1052.77,1156.92 1053.32,1157.71 1053.92,1158.40 1054.56,1158.94 1055.22,1159.31 1055.89,1159.49 1056.57,1159.47 1057.23,1159.25 1057.86,1158.84 1058.45,1158.26 1058.99,1157.54 1059.48,1156.72 1059.91,1155.82 1060.27,1154.91 1060.58,1154.02 1060.83,1153.20 1061.04,1152.48 1061.21,1151.91 1061.35,1151.50 1061.49,1151.29 1061.62,1151.28 1061.77,1151.47 1061.95,1151.84 1062.17,1152.39 1062.43,1153.08 1062.75,1153.87 1063.14,1154.73 1063.58,1155.61 1064.08,1156.46 1064.64,1157.25 1065.24,1157.92 1065.88,1158.46 1066.54,1158.82 1067.21,1158.99 1067.89,1158.96 1068.54,1158.73 1069.17,1158.32 1069.76,1157.73 1070.30,1157.01 1070.79,1156.18 1071.21,1155.28 1071.58,1154.37 1071.88,1153.48 1072.13,1152.66 1072.34,1151.95 1072.51,1151.38 1072.65,1150.99 1072.78,1150.79 1072.92,1150.78 1073.07,1150.98 1073.25,1151.36 1073.47,1151.92 1073.74,1152.61 1074.06,1153.41 1074.44,1154.27 1074.89,1155.14 1075.39,1156.00 1075.95,1156.78 1076.56,1157.45 1077.19,1157.98 1077.86,1158.33 1078.53,1158.49 1079.21,1158.45 1079.86,1158.22 1080.49,1157.79 1081.08,1157.20 1081.62,1156.47 1082.10,1155.63 1082.52,1154.74 1082.88,1153.82 1083.18,1152.94 1083.43,1152.12 1083.63,1151.42 1083.80,1150.86 1083.94,1150.47 1084.08,1150.28 1084.21,1150.28 1084.36,1150.49 1084.55,1150.88 1084.77,1151.44 1085.04,1152.14 1085.36,1152.94 1085.75,1153.80 1086.20,1154.68 1086.71,1155.53 1087.27,1156.31 1087.87,1156.97 1088.51,1157.49 1089.18,1157.84 1089.85,1157.99 1090.73,1157.91 1091.37,1157.63 1091.98,1157.17 1092.53,1156.54 1093.02,1155.77 1093.46,1154.91 1093.83,1153.99 1094.14,1153.06 1094.39,1152.16 1094.60,1151.34 1094.76,1150.63 1094.90,1150.07 1095.02,1149.69 1095.14,1149.50 1095.28,1149.51 1095.44,1149.71 1095.65,1150.10 1095.90,1150.66 1096.21,1151.35 1096.58,1152.13 1097.02,1152.97 1097.51,1153.83 1098.06,1154.64 1098.67,1155.39 1099.31,1156.01 1099.98,1156.49 1100.66,1156.79 1101.34,1156.90 1102.01,1156.81 1102.65,1156.52 1103.25,1156.05 1103.80,1155.41 1104.29,1154.64 1104.72,1153.78 1105.09,1152.86 1105.40,1151.93 1105.65,1151.03 1105.85,1150.21 1106.01,1149.51 1106.15,1148.96 1106.27,1148.58 1106.40,1148.40 1106.53,1148.42 1106.70,1148.63 1106.90,1149.03 1107.16,1149.59 1107.47,1150.29 1107.85,1151.08 1108.28,1151.92 1108.78,1152.77 1109.34,1153.59 1109.94,1154.33 1110.59,1154.95 1111.26,1155.42 1111.94,1155.71 1112.62,1155.81 1113.29,1155.71 1113.92,1155.41 1114.52,1154.93 1115.07,1154.29 1115.56,1153.51 1115.99,1152.64 1116.36,1151.72 1116.66,1150.79 1116.91,1149.90 1117.11,1149.08 1117.27,1148.39 1117.40,1147.84 1117.53,1147.48 1117.65,1147.30 1117.79,1147.33 1117.95,1147.55 1118.16,1147.96 1118.42,1148.53 1118.73,1149.23 1119.11,1150.02 1119.55,1150.86 1120.05,1151.72 1120.61,1152.53 1121.22,1153.26 1121.86,1153.88 1122.53,1154.34 1123.22,1154.62 1123.90,1154.72 1124.56,1154.61 1125.20,1154.30 1125.80,1153.81 1126.34,1153.16 1126.83,1152.38 1127.26,1151.51" fill="none" stroke="#1B7BA6" stroke-width="3.456" stroke-linejoin="round" stroke-linecap="round"/>
<polyline points="947.20,1152.25 947.61,1151.37 947.96,1150.54 948.25,1149.79 948.49,1149.17 948.69,1148.70 948.85,1148.41 948.99,1148.32" fill="none" stroke="#2897C9" stroke-width="4.8" stroke-linecap="round" stroke-linejoin="round"/>
<polyline points="954.33,1156.54 955.00,1156.46 955.67,1156.19 956.32,1155.73 956.94,1155.11 957.52,1154.37 958.04,1153.54 958.51,1152.67 958.92,1151.80 959.26,1150.97 959.55,1150.22 959.79,1149.61 959.98,1149.14 960.14,1148.86 960.28,1148.78" fill="none" stroke="#2897C9" stroke-width="4.8" stroke-linecap="round" stroke-linejoin="round"/>
<polyline points="965.65,1157.01 966.32,1156.92 966.99,1156.63 967.64,1156.17 968.26,1155.55 968.83,1154.80 969.36,1153.97 969.82,1153.09 970.22,1152.22 970.57,1151.39 970.86,1150.65 971.09,1150.04 971.28,1149.59 971.44,1149.32 971.58,1149.24" fill="none" stroke="#2897C9" stroke-width="4.8" stroke-linecap="round" stroke-linejoin="round"/>
<polyline points="976.97,1157.47 977.65,1157.37 978.31,1157.08 978.96,1156.60 979.58,1155.98 980.15,1155.22 980.67,1154.39 981.13,1153.51 981.53,1152.64 981.87,1151.82 982.16,1151.08 982.39,1150.48 982.58,1150.03 982.74,1149.77 982.88,1149.71" fill="none" stroke="#2897C9" stroke-width="4.8" stroke-linecap="round" stroke-linejoin="round"/>
<polyline points="988.29,1157.93 988.97,1157.82 989.63,1157.52 990.28,1157.04 990.91,1156.40 991.47,1155.64 991.98,1154.80 992.44,1153.92 992.84,1153.05 993.17,1152.23 993.45,1151.50 993.68,1150.90 993.86,1150.46 994.02,1150.21 994.16,1150.15" fill="none" stroke="#2897C9" stroke-width="4.8" stroke-linecap="round" stroke-linejoin="round"/>
<polyline points="999.63,1158.35 1000.31,1158.23 1000.97,1157.91 1001.62,1157.42 1002.22,1156.78 1002.79,1156.02 1003.30,1155.17 1003.75,1154.29 1004.14,1153.42 1004.48,1152.60 1004.75,1151.88 1004.98,1151.29 1005.16,1150.86 1005.32,1150.61 1005.46,1150.57" fill="none" stroke="#2897C9" stroke-width="4.8" stroke-linecap="round" stroke-linejoin="round"/>
<polyline points="1010.96,1158.76 1011.63,1158.63 1012.30,1158.31 1012.94,1157.81 1013.54,1157.16 1014.11,1156.39 1014.61,1155.54 1015.06,1154.66 1015.45,1153.79 1015.78,1152.98 1016.06,1152.26 1016.28,1151.68 1016.46,1151.25 1016.62,1151.02 1016.75,1150.98" fill="none" stroke="#2897C9" stroke-width="4.8" stroke-linecap="round" stroke-linejoin="round"/>
<polyline points="1022.28,1159.17 1022.95,1159.03 1023.62,1158.70 1024.26,1158.19 1024.86,1157.54 1025.42,1156.76 1025.93,1155.92 1026.38,1155.04 1026.76,1154.17 1027.09,1153.35 1027.36,1152.64 1027.58,1152.06 1027.76,1151.65 1027.92,1151.42 1028.05,1151.39" fill="none" stroke="#2897C9" stroke-width="4.8" stroke-linecap="round" stroke-linejoin="round"/>
<polyline points="1032.93,1159.52 1033.60,1159.58 1034.28,1159.43 1034.94,1159.09 1035.58,1158.58 1036.18,1157.91 1036.74,1157.14 1037.24,1156.29 1037.69,1155.41 1038.07,1154.54 1038.40,1153.73 1038.66,1153.02 1038.88,1152.45 1039.06,1152.04 1039.22,1151.83 1039.35,1151.81" fill="none" stroke="#2897C9" stroke-width="4.8" stroke-linecap="round" stroke-linejoin="round"/>
<polyline points="1044.25,1159.94 1044.93,1159.98 1045.91,1159.77 1046.54,1159.37 1047.13,1158.80 1047.68,1158.08 1048.17,1157.26 1048.60,1156.37 1048.97,1155.45 1049.28,1154.56 1049.53,1153.73 1049.74,1153.01 1049.91,1152.43 1050.06,1152.02 1050.19,1151.80 1050.33,1151.78" fill="none" stroke="#2897C9" stroke-width="4.8" stroke-linecap="round" stroke-linejoin="round"/>
<polyline points="1055.89,1159.49 1056.57,1159.47 1057.23,1159.25 1057.86,1158.84 1058.45,1158.26 1058.99,1157.54 1059.48,1156.72 1059.91,1155.82 1060.27,1154.91 1060.58,1154.02 1060.83,1153.20 1061.04,1152.48 1061.21,1151.91 1061.35,1151.50 1061.49,1151.29 1061.62,1151.28" fill="none" stroke="#2897C9" stroke-width="4.8" stroke-linecap="round" stroke-linejoin="round"/>
<polyline points="1067.21,1158.99 1067.89,1158.96 1068.54,1158.73 1069.17,1158.32 1069.76,1157.73 1070.30,1157.01 1070.79,1156.18 1071.21,1155.28 1071.58,1154.37 1071.88,1153.48 1072.13,1152.66 1072.34,1151.95 1072.51,1151.38 1072.65,1150.99 1072.78,1150.79 1072.92,1150.78" fill="none" stroke="#2897C9" stroke-width="4.8" stroke-linecap="round" stroke-linejoin="round"/>
<polyline points="1078.53,1158.49 1079.21,1158.45 1079.86,1158.22 1080.49,1157.79 1081.08,1157.20 1081.62,1156.47 1082.10,1155.63 1082.52,1154.74 1082.88,1153.82 1083.18,1152.94 1083.43,1152.12 1083.63,1151.42 1083.80,1150.86 1083.94,1150.47 1084.08,1150.28 1084.21,1150.28" fill="none" stroke="#2897C9" stroke-width="4.8" stroke-linecap="round" stroke-linejoin="round"/>
<polyline points="1089.85,1157.99 1090.73,1157.91 1091.37,1157.63 1091.98,1157.17 1092.53,1156.54 1093.02,1155.77 1093.46,1154.91 1093.83,1153.99 1094.14,1153.06 1094.39,1152.16 1094.60,1151.34 1094.76,1150.63 1094.90,1150.07 1095.02,1149.69 1095.14,1149.50 1095.28,1149.51" fill="none" stroke="#2897C9" stroke-width="4.8" stroke-linecap="round" stroke-linejoin="round"/>
<polyline points="1101.34,1156.90 1102.01,1156.81 1102.65,1156.52 1103.25,1156.05 1103.80,1155.41 1104.29,1154.64 1104.72,1153.78 1105.09,1152.86 1105.40,1151.93 1105.65,1151.03 1105.85,1150.21 1106.01,1149.51 1106.15,1148.96 1106.27,1148.58 1106.40,1148.40 1106.53,1148.42" fill="none" stroke="#2897C9" stroke-width="4.8" stroke-linecap="round" stroke-linejoin="round"/>
<polyline points="1112.62,1155.81 1113.29,1155.71 1113.92,1155.41 1114.52,1154.93 1115.07,1154.29 1115.56,1153.51 1115.99,1152.64 1116.36,1151.72 1116.66,1150.79 1116.91,1149.90 1117.11,1149.08 1117.27,1148.39 1117.40,1147.84 1117.53,1147.48 1117.65,1147.30" fill="none" stroke="#2897C9" stroke-width="4.8" stroke-linecap="round" stroke-linejoin="round"/>
<polyline points="1123.90,1154.72 1124.56,1154.61 1125.20,1154.30 1125.80,1153.81 1126.34,1153.16 1126.83,1152.38 1127.26,1151.51" fill="none" stroke="#2897C9" stroke-width="4.8" stroke-linecap="round" stroke-linejoin="round"/>
<path d="M1128,1153 C1131,1143 1140,1143 1146.5,1152.5" fill="none" stroke="#2897C9" stroke-width="1.4"/>
<polyline points="799.40,1297.21 799.66,1296.52 799.81,1295.86 799.86,1295.27 799.82,1294.78 799.72,1294.41 799.56,1294.18 799.38,1294.11 799.20,1294.19 799.05,1294.42 798.94,1294.79 798.90,1295.29 798.95,1295.88 799.10,1296.54 799.36,1297.23 799.73,1297.92 800.20,1298.58 800.78,1299.17 801.44,1299.66 802.17,1300.02 802.95,1300.25 803.75,1300.32 804.55,1300.24 805.33,1300.01 806.05,1299.63 806.71,1299.14 807.28,1298.55 807.76,1297.89 808.12,1297.20 808.37,1296.51 808.51,1295.86 808.56,1295.27 808.52,1294.79 808.41,1294.43 808.25,1294.21 808.07,1294.14 807.89,1294.23 807.74,1294.47 807.64,1294.85 807.61,1295.35 807.66,1295.95 807.81,1296.61 808.08,1297.30 808.45,1297.99 808.93,1298.65 809.51,1299.23 810.18,1299.71 810.91,1300.07 811.69,1300.29 812.50,1300.36 813.30,1300.26 814.07,1300.02 814.80,1299.64 815.45,1299.14 816.01,1298.54 816.48,1297.88 816.84,1297.19 817.08,1296.50 817.22,1295.85 817.26,1295.27 817.21,1294.80 817.10,1294.44 816.94,1294.23 816.76,1294.17 816.58,1294.27 816.43,1294.52 816.33,1294.91 816.31,1295.41 816.37,1296.01 816.53,1296.68 816.80,1297.37 817.18,1298.06 817.66,1298.71 818.25,1299.29 818.92,1299.77 819.66,1300.12 820.44,1300.33 821.24,1300.39 822.04,1300.29 822.82,1300.03 823.54,1299.65 824.18,1299.14 824.74,1298.54 825.20,1297.87 825.55,1297.18 825.79,1296.49 825.92,1295.85 825.96,1295.27 825.91,1294.80 825.79,1294.46 825.63,1294.25 825.45,1294.21 825.27,1294.31 825.13,1294.57 825.03,1294.97 825.01,1295.48 825.07,1296.08 825.24,1296.75 825.52,1297.45 825.90,1298.13 826.40,1298.78 826.99,1299.35 827.66,1299.82 828.40,1300.17 829.19,1300.37 829.99,1300.42 830.79,1300.31 831.56,1300.05 832.28,1299.65 832.92,1299.14 833.47,1298.53 833.93,1297.87 834.27,1297.17 834.50,1296.49 834.63,1295.84 834.66,1295.28 834.60,1294.81 834.48,1294.47 834.32,1294.28 834.14,1294.24 833.96,1294.36 833.82,1294.62 833.73,1295.02 833.71,1295.54 833.78,1296.15 833.95,1296.82 834.24,1297.52 834.63,1298.21 835.13,1298.85 835.72,1299.42 836.40,1299.88 837.15,1300.22 837.93,1300.41 838.74,1300.45 839.54,1300.33 840.30,1300.06 841.02,1299.66 841.66,1299.13 842.20,1298.53 842.65,1297.86 842.99,1297.16 843.21,1296.48 843.33,1295.84 843.36,1295.28 843.30,1294.82 843.18,1294.49 843.01,1294.30 842.83,1294.27 842.66,1294.40 842.51,1294.67 842.42,1295.08 842.41,1295.61 842.49,1296.22 842.67,1296.90 842.95,1297.59 843.35,1298.28 843.86,1298.92 844.46,1299.48 845.15,1299.94 845.89,1300.26 846.68,1300.45 847.48,1300.47 848.28,1300.35 849.05,1300.07 849.76,1299.66 850.39,1299.13 850.93,1298.52 851.37,1297.85 851.70,1297.15 851.92,1296.47 852.04,1295.84 852.06,1295.28 851.99,1294.83 851.87,1294.51 851.70,1294.33 851.52,1294.31 851.35,1294.44" fill="none" stroke="#B8626C" stroke-width="1.7600000000000002" stroke-linejoin="round" stroke-linecap="round"/>
<polyline points="799.40,1297.21 799.66,1296.52 799.81,1295.86 799.86,1295.27 799.82,1294.78 799.72,1294.41 799.56,1294.18 799.38,1294.11 799.20,1294.19 799.05,1294.42 798.94,1294.79 798.90,1295.29 798.95,1295.88 799.10,1296.54 799.36,1297.23 799.73,1297.92" fill="none" stroke="#E4868F" stroke-width="4.4" stroke-linecap="round" stroke-linejoin="round"/>
<polyline points="807.76,1297.89 808.12,1297.20 808.37,1296.51 808.51,1295.86 808.56,1295.27 808.52,1294.79 808.41,1294.43 808.25,1294.21 808.07,1294.14 807.89,1294.23 807.74,1294.47 807.64,1294.85 807.61,1295.35 807.66,1295.95 807.81,1296.61 808.08,1297.30 808.45,1297.99" fill="none" stroke="#E4868F" stroke-width="4.4" stroke-linecap="round" stroke-linejoin="round"/>
<polyline points="816.48,1297.88 816.84,1297.19 817.08,1296.50 817.22,1295.85 817.26,1295.27 817.21,1294.80 817.10,1294.44 816.94,1294.23 816.76,1294.17 816.58,1294.27 816.43,1294.52 816.33,1294.91 816.31,1295.41 816.37,1296.01 816.53,1296.68 816.80,1297.37 817.18,1298.06" fill="none" stroke="#E4868F" stroke-width="4.4" stroke-linecap="round" stroke-linejoin="round"/>
<polyline points="825.20,1297.87 825.55,1297.18 825.79,1296.49 825.92,1295.85 825.96,1295.27 825.91,1294.80 825.79,1294.46 825.63,1294.25 825.45,1294.21 825.27,1294.31 825.13,1294.57 825.03,1294.97 825.01,1295.48 825.07,1296.08 825.24,1296.75 825.52,1297.45 825.90,1298.13" fill="none" stroke="#E4868F" stroke-width="4.4" stroke-linecap="round" stroke-linejoin="round"/>
<polyline points="833.93,1297.87 834.27,1297.17 834.50,1296.49 834.63,1295.84 834.66,1295.28 834.60,1294.81 834.48,1294.47 834.32,1294.28 834.14,1294.24 833.96,1294.36 833.82,1294.62 833.73,1295.02 833.71,1295.54 833.78,1296.15 833.95,1296.82 834.24,1297.52 834.63,1298.21" fill="none" stroke="#E4868F" stroke-width="4.4" stroke-linecap="round" stroke-linejoin="round"/>
<polyline points="842.65,1297.86 842.99,1297.16 843.21,1296.48 843.33,1295.84 843.36,1295.28 843.30,1294.82 843.18,1294.49 843.01,1294.30 842.83,1294.27 842.66,1294.40 842.51,1294.67 842.42,1295.08 842.41,1295.61 842.49,1296.22 842.67,1296.90 842.95,1297.59 843.35,1298.28" fill="none" stroke="#E4868F" stroke-width="4.4" stroke-linecap="round" stroke-linejoin="round"/>
<polyline points="851.37,1297.85 851.70,1297.15 851.92,1296.47 852.04,1295.84 852.06,1295.28 851.99,1294.83 851.87,1294.51 851.70,1294.33 851.52,1294.31 851.35,1294.44" fill="none" stroke="#E4868F" stroke-width="4.4" stroke-linecap="round" stroke-linejoin="round"/>
<polyline points="853.56,1293.01 853.34,1292.73 853.16,1292.61 853.06,1292.65 853.05,1292.85 853.15,1293.19 853.36,1293.64 853.70,1294.17 854.16,1294.75 854.73,1295.34 855.40,1295.91 856.14,1296.40 856.95,1296.81 857.79,1297.09 858.63,1297.22 859.45,1297.19 860.22,1297.00 860.92,1296.64 861.52,1296.12 862.02,1295.47 862.40,1294.71 862.65,1293.86 862.79,1292.97 862.81,1292.07 862.74,1291.20 862.59,1290.39 862.38,1289.68 862.13,1289.10 861.89,1288.66 861.67,1288.38 861.50,1288.27 861.40,1288.32 861.39,1288.53 861.49,1288.87 861.47,1289.74 861.90,1290.21 862.45,1290.70 863.12,1291.19 863.87,1291.63 864.70,1291.99 865.56,1292.24 866.44,1292.37 867.29,1292.35 868.09,1292.17 868.81,1291.84 869.43,1291.36 869.93,1290.75 870.30,1290.02 870.54,1289.20 870.64,1288.32 870.62,1287.42 870.49,1286.53 870.26,1285.69 869.97,1284.92 869.65,1284.26 869.31,1283.73 868.99,1283.35 868.73,1283.12 868.55,1283.05 868.47,1283.12 868.50,1283.34 868.67,1283.66 868.97,1284.08 869.41,1284.55 869.97,1285.04 870.64,1285.52 871.40,1285.96 872.23,1286.32 873.09,1286.57 873.96,1286.68 874.81,1286.66 875.61,1286.48 876.33,1286.14 876.94,1285.65 877.44,1285.03 877.81,1284.29 878.04,1283.47 878.13,1282.59 878.10,1281.69 877.97,1280.80 877.74,1279.96 877.44,1279.20 877.11,1278.55 876.78,1278.03 876.47,1277.65 876.21,1277.43 876.03,1277.36 875.95,1277.45 875.99,1277.66 876.17,1278.00 876.47,1278.41 876.92,1278.89 877.48,1279.38 878.16,1279.86 878.93,1280.29 879.76,1280.65 880.62,1280.89 881.49,1281.00 882.34,1280.97 883.13,1280.78 883.85,1280.43 884.46,1279.94 884.95,1279.31 885.31,1278.57 885.53,1277.74 885.62,1276.86 885.59,1275.96 885.44,1275.07 885.21,1274.24 884.91,1273.48 884.58,1272.83 884.25,1272.32 883.94,1271.95 883.68,1271.74 883.51,1271.68 883.44,1271.77 883.48,1271.99 883.66,1272.33 883.98,1272.75 884.43,1273.23 885.00,1273.72 885.68,1274.20 886.45,1274.63 887.28,1274.98 888.15,1275.21 889.02,1275.32 889.87,1275.28 890.66,1275.08 891.36,1274.73 891.97,1274.23 892.45,1273.59 892.81,1272.84 893.02,1272.01 893.11,1271.13 893.07,1270.23 892.92,1269.35 892.68,1268.51 892.38,1267.76 892.05,1267.12 891.72,1266.61 891.41,1266.25 891.16,1266.04 890.99,1265.99 890.92,1266.09 890.97,1266.32 891.16,1266.66 891.48,1267.09 891.94,1267.57 892.52,1268.06 893.20,1268.54 893.98,1268.96 894.81,1269.30 895.68,1269.54 896.55,1269.63 897.39,1269.58 898.18,1269.38 898.88,1269.02 899.48,1268.51 899.96,1267.87 900.31,1267.12 900.52,1266.29 900.59,1265.40 900.55,1264.50 900.39,1263.62 900.15,1262.79 899.85,1262.04 899.52,1261.41 899.19,1260.90 898.88,1260.55 898.63,1260.35 898.47,1260.31 898.41,1260.41 898.47,1260.65 898.66,1261.00 898.99,1261.43 899.45,1261.90 900.03,1262.40 900.73,1262.87 901.50,1263.30 902.34,1263.63 903.21,1263.86 904.08,1263.95" fill="none" stroke="#B8626C" stroke-width="1.9800000000000002" stroke-linejoin="round" stroke-linecap="round"/>
<polyline points="853.56,1293.01 853.34,1292.73 853.16,1292.61 853.06,1292.65 853.05,1292.85 853.15,1293.19 853.36,1293.64 853.70,1294.17 854.16,1294.75 854.73,1295.34 855.40,1295.91 856.14,1296.40" fill="none" stroke="#E4868F" stroke-width="4.4" stroke-linecap="round" stroke-linejoin="round"/>
<polyline points="862.79,1292.97 862.81,1292.07 862.74,1291.20 862.59,1290.39 862.38,1289.68 862.13,1289.10 861.89,1288.66 861.67,1288.38 861.50,1288.27 861.40,1288.32 861.39,1288.53 861.49,1288.87 861.47,1289.74 861.90,1290.21 862.45,1290.70 863.12,1291.19 863.87,1291.63 864.70,1291.99" fill="none" stroke="#E4868F" stroke-width="4.4" stroke-linecap="round" stroke-linejoin="round"/>
<polyline points="870.62,1287.42 870.49,1286.53 870.26,1285.69 869.97,1284.92 869.65,1284.26 869.31,1283.73 868.99,1283.35 868.73,1283.12 868.55,1283.05 868.47,1283.12 868.50,1283.34 868.67,1283.66 868.97,1284.08 869.41,1284.55 869.97,1285.04 870.64,1285.52 871.40,1285.96 872.23,1286.32" fill="none" stroke="#E4868F" stroke-width="4.4" stroke-linecap="round" stroke-linejoin="round"/>
<polyline points="878.10,1281.69 877.97,1280.80 877.74,1279.96 877.44,1279.20 877.11,1278.55 876.78,1278.03 876.47,1277.65 876.21,1277.43 876.03,1277.36 875.95,1277.45 875.99,1277.66 876.17,1278.00 876.47,1278.41 876.92,1278.89 877.48,1279.38 878.16,1279.86 878.93,1280.29" fill="none" stroke="#E4868F" stroke-width="4.4" stroke-linecap="round" stroke-linejoin="round"/>
<polyline points="885.59,1275.96 885.44,1275.07 885.21,1274.24 884.91,1273.48 884.58,1272.83 884.25,1272.32 883.94,1271.95 883.68,1271.74 883.51,1271.68 883.44,1271.77 883.48,1271.99 883.66,1272.33 883.98,1272.75 884.43,1273.23 885.00,1273.72 885.68,1274.20 886.45,1274.63" fill="none" stroke="#E4868F" stroke-width="4.4" stroke-linecap="round" stroke-linejoin="round"/>
<polyline points="893.07,1270.23 892.92,1269.35 892.68,1268.51 892.38,1267.76 892.05,1267.12 891.72,1266.61 891.41,1266.25 891.16,1266.04 890.99,1265.99 890.92,1266.09 890.97,1266.32 891.16,1266.66 891.48,1267.09 891.94,1267.57 892.52,1268.06 893.20,1268.54 893.98,1268.96" fill="none" stroke="#E4868F" stroke-width="4.4" stroke-linecap="round" stroke-linejoin="round"/>
<polyline points="900.55,1264.50 900.39,1263.62 900.15,1262.79 899.85,1262.04 899.52,1261.41 899.19,1260.90 898.88,1260.55 898.63,1260.35 898.47,1260.31 898.41,1260.41 898.47,1260.65 898.66,1261.00 898.99,1261.43 899.45,1261.90 900.03,1262.40 900.73,1262.87 901.50,1263.30" fill="none" stroke="#E4868F" stroke-width="4.4" stroke-linecap="round" stroke-linejoin="round"/>
<path d="M904,1258 C911,1262 909,1246 918,1241.5 C919,1241 920,1242 921,1243" fill="none" stroke="#E4868F" stroke-width="1.3"/>
<polyline points="918.31,1242.37 918.63,1242.82 919.05,1243.36 919.59,1243.94 920.22,1244.53 920.92,1245.08 921.68,1245.56 922.46,1245.94 923.26,1246.19 924.03,1246.28 924.76,1246.21 925.42,1245.97 925.99,1245.57 926.46,1245.02 926.83,1244.33 927.08,1243.54 927.21,1242.68 927.25,1241.78 927.20,1240.89 927.07,1240.04 926.89,1239.27 926.69,1238.60 926.49,1238.08 926.32,1237.70 926.19,1237.50 926.14,1237.46 926.17,1237.58 926.31,1237.86 926.57,1238.26 926.93,1238.75 927.41,1239.31 927.98,1239.90 928.64,1240.48 929.37,1241.00 930.15,1241.44 930.94,1241.77 931.73,1241.95 932.48,1241.98 933.19,1241.84 933.81,1241.53 934.34,1241.06 934.77,1240.45 935.08,1239.71 935.29,1238.89 935.38,1238.01 935.37,1237.11 935.29,1236.23 935.13,1235.40 934.95,1234.67 934.74,1234.07 934.55,1233.60 934.39,1233.30 934.29,1233.16 934.28,1233.20 934.36,1233.39 934.54,1233.72 934.84,1234.16 935.26,1234.69 935.78,1235.27 936.39,1235.85 937.08,1236.41 937.83,1236.91" fill="none" stroke="#B8626C" stroke-width="2.1" stroke-linejoin="round" stroke-linecap="round"/>
<polyline points="918.31,1242.37 918.63,1242.82 919.05,1243.36 919.59,1243.94 920.22,1244.53 920.92,1245.08" fill="none" stroke="#E4868F" stroke-width="4.2" stroke-linecap="round" stroke-linejoin="round"/>
<polyline points="927.25,1241.78 927.20,1240.89 927.07,1240.04 926.89,1239.27 926.69,1238.60 926.49,1238.08 926.32,1237.70 926.19,1237.50 926.14,1237.46 926.17,1237.58 926.31,1237.86 926.57,1238.26 926.93,1238.75 927.41,1239.31 927.98,1239.90 928.64,1240.48 929.37,1241.00" fill="none" stroke="#E4868F" stroke-width="4.2" stroke-linecap="round" stroke-linejoin="round"/>
<polyline points="935.38,1238.01 935.37,1237.11 935.29,1236.23 935.13,1235.40 934.95,1234.67 934.74,1234.07 934.55,1233.60 934.39,1233.30 934.29,1233.16 934.28,1233.20 934.36,1233.39 934.54,1233.72 934.84,1234.16 935.26,1234.69 935.78,1235.27 936.39,1235.85 937.08,1236.41" fill="none" stroke="#E4868F" stroke-width="4.2" stroke-linecap="round" stroke-linejoin="round"/>
<path d="M938.5,1234 C936,1229 934.5,1225 936.2,1225.2 C938,1226 938.5,1231.5 941,1232.6 C943,1233.3 945,1232 947.6,1232.4" fill="none" stroke="#B8626C" stroke-width="1.1"/>
</svg>
</body></html>
